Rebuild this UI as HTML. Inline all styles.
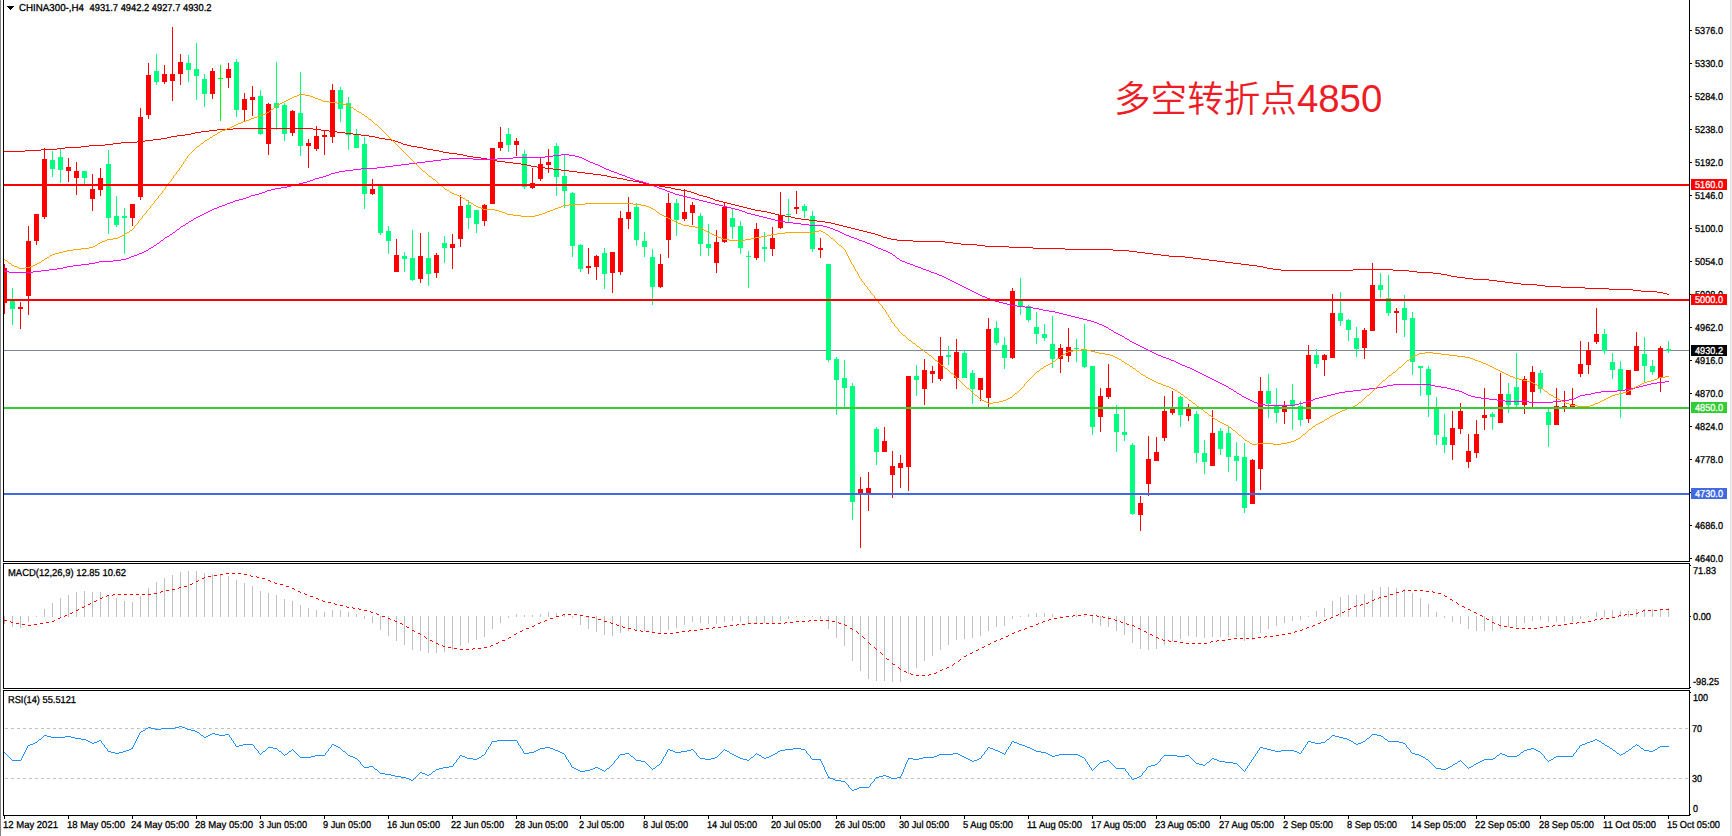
<!DOCTYPE html>
<html lang="zh"><head><meta charset="utf-8"><title>CHINA300-,H4</title>
<style>
html,body{margin:0;padding:0;background:#fff;}
body{width:1732px;height:836px;overflow:hidden;position:relative;font-family:"Liberation Sans","Noto Sans CJK SC",sans-serif;}
svg{position:absolute;left:0;top:0;display:block;}
.t{font-family:"Liberation Sans",sans-serif;font-size:10px;fill:#000;stroke:#000;stroke-width:0.3px;text-rendering:geometricPrecision;white-space:pre;}
.w{fill:#fff;stroke:#fff;}
.note{position:absolute;left:1114px;top:73px;margin:0;font-family:"Liberation Sans","Noto Sans CJK SC",sans-serif;font-weight:350;font-size:36.6px;line-height:52px;color:#ee1c25;white-space:nowrap;}
.num{font-size:38.4px;}
</style></head><body>
<svg width="1732" height="836" viewBox="0 0 1732 836">
<rect x="0" y="0" width="1732" height="836" fill="#fff"/>
<g shape-rendering="crispEdges">
<rect x="0" y="0" width="1" height="836" fill="#828282"/>
<rect x="1730" y="0" width="1" height="836" fill="#e2e2e2"/>
<rect x="1731" y="0" width="1" height="836" fill="#f0f0f0"/>
<rect x="4" y="350" width="1685" height="1" fill="#778899"/>
<rect x="4" y="616" width="1" height="8" fill="#c0c0c0"/>
<rect x="12" y="616" width="1" height="11" fill="#c0c0c0"/>
<rect x="20" y="616" width="1" height="12" fill="#c0c0c0"/>
<rect x="28" y="616" width="1" height="6" fill="#c0c0c0"/>
<rect x="36" y="616" width="1" height="1" fill="#c0c0c0"/>
<rect x="44" y="609" width="1" height="8" fill="#c0c0c0"/>
<rect x="52" y="603" width="1" height="14" fill="#c0c0c0"/>
<rect x="60" y="598" width="1" height="19" fill="#c0c0c0"/>
<rect x="68" y="595" width="1" height="22" fill="#c0c0c0"/>
<rect x="76" y="592" width="1" height="25" fill="#c0c0c0"/>
<rect x="84" y="591" width="1" height="26" fill="#c0c0c0"/>
<rect x="92" y="592" width="1" height="25" fill="#c0c0c0"/>
<rect x="100" y="592" width="1" height="25" fill="#c0c0c0"/>
<rect x="108" y="595" width="1" height="22" fill="#c0c0c0"/>
<rect x="116" y="598" width="1" height="19" fill="#c0c0c0"/>
<rect x="124" y="601" width="1" height="16" fill="#c0c0c0"/>
<rect x="132" y="602" width="1" height="15" fill="#c0c0c0"/>
<rect x="140" y="596" width="1" height="21" fill="#c0c0c0"/>
<rect x="148" y="588" width="1" height="29" fill="#c0c0c0"/>
<rect x="156" y="582" width="1" height="35" fill="#c0c0c0"/>
<rect x="164" y="578" width="1" height="39" fill="#c0c0c0"/>
<rect x="172" y="575" width="1" height="42" fill="#c0c0c0"/>
<rect x="180" y="572" width="1" height="45" fill="#c0c0c0"/>
<rect x="188" y="571" width="1" height="46" fill="#c0c0c0"/>
<rect x="196" y="571" width="1" height="46" fill="#c0c0c0"/>
<rect x="204" y="573" width="1" height="44" fill="#c0c0c0"/>
<rect x="212" y="574" width="1" height="43" fill="#c0c0c0"/>
<rect x="220" y="575" width="1" height="42" fill="#c0c0c0"/>
<rect x="228" y="576" width="1" height="41" fill="#c0c0c0"/>
<rect x="236" y="580" width="1" height="37" fill="#c0c0c0"/>
<rect x="244" y="583" width="1" height="34" fill="#c0c0c0"/>
<rect x="252" y="586" width="1" height="31" fill="#c0c0c0"/>
<rect x="260" y="591" width="1" height="26" fill="#c0c0c0"/>
<rect x="268" y="593" width="1" height="24" fill="#c0c0c0"/>
<rect x="276" y="595" width="1" height="22" fill="#c0c0c0"/>
<rect x="284" y="599" width="1" height="18" fill="#c0c0c0"/>
<rect x="292" y="601" width="1" height="16" fill="#c0c0c0"/>
<rect x="300" y="605" width="1" height="12" fill="#c0c0c0"/>
<rect x="308" y="608" width="1" height="9" fill="#c0c0c0"/>
<rect x="316" y="610" width="1" height="7" fill="#c0c0c0"/>
<rect x="324" y="612" width="1" height="5" fill="#c0c0c0"/>
<rect x="332" y="610" width="1" height="7" fill="#c0c0c0"/>
<rect x="340" y="610" width="1" height="7" fill="#c0c0c0"/>
<rect x="348" y="612" width="1" height="5" fill="#c0c0c0"/>
<rect x="356" y="614" width="1" height="3" fill="#c0c0c0"/>
<rect x="364" y="616" width="1" height="3" fill="#c0c0c0"/>
<rect x="372" y="616" width="1" height="7" fill="#c0c0c0"/>
<rect x="380" y="616" width="1" height="14" fill="#c0c0c0"/>
<rect x="388" y="616" width="1" height="20" fill="#c0c0c0"/>
<rect x="396" y="616" width="1" height="25" fill="#c0c0c0"/>
<rect x="404" y="616" width="1" height="29" fill="#c0c0c0"/>
<rect x="412" y="616" width="1" height="34" fill="#c0c0c0"/>
<rect x="420" y="616" width="1" height="35" fill="#c0c0c0"/>
<rect x="428" y="616" width="1" height="37" fill="#c0c0c0"/>
<rect x="436" y="616" width="1" height="37" fill="#c0c0c0"/>
<rect x="444" y="616" width="1" height="36" fill="#c0c0c0"/>
<rect x="452" y="616" width="1" height="34" fill="#c0c0c0"/>
<rect x="460" y="616" width="1" height="30" fill="#c0c0c0"/>
<rect x="468" y="616" width="1" height="27" fill="#c0c0c0"/>
<rect x="476" y="616" width="1" height="24" fill="#c0c0c0"/>
<rect x="484" y="616" width="1" height="21" fill="#c0c0c0"/>
<rect x="492" y="616" width="1" height="13" fill="#c0c0c0"/>
<rect x="500" y="616" width="1" height="7" fill="#c0c0c0"/>
<rect x="508" y="616" width="1" height="2" fill="#c0c0c0"/>
<rect x="516" y="614" width="1" height="3" fill="#c0c0c0"/>
<rect x="524" y="615" width="1" height="2" fill="#c0c0c0"/>
<rect x="532" y="615" width="1" height="2" fill="#c0c0c0"/>
<rect x="540" y="614" width="1" height="3" fill="#c0c0c0"/>
<rect x="548" y="612" width="1" height="5" fill="#c0c0c0"/>
<rect x="556" y="613" width="1" height="4" fill="#c0c0c0"/>
<rect x="564" y="614" width="1" height="3" fill="#c0c0c0"/>
<rect x="572" y="616" width="1" height="2" fill="#c0c0c0"/>
<rect x="580" y="616" width="1" height="9" fill="#c0c0c0"/>
<rect x="588" y="616" width="1" height="13" fill="#c0c0c0"/>
<rect x="596" y="616" width="1" height="16" fill="#c0c0c0"/>
<rect x="604" y="616" width="1" height="19" fill="#c0c0c0"/>
<rect x="612" y="616" width="1" height="20" fill="#c0c0c0"/>
<rect x="620" y="616" width="1" height="17" fill="#c0c0c0"/>
<rect x="628" y="616" width="1" height="15" fill="#c0c0c0"/>
<rect x="636" y="616" width="1" height="14" fill="#c0c0c0"/>
<rect x="644" y="616" width="1" height="15" fill="#c0c0c0"/>
<rect x="652" y="616" width="1" height="17" fill="#c0c0c0"/>
<rect x="660" y="616" width="1" height="18" fill="#c0c0c0"/>
<rect x="668" y="616" width="1" height="14" fill="#c0c0c0"/>
<rect x="676" y="616" width="1" height="12" fill="#c0c0c0"/>
<rect x="684" y="616" width="1" height="9" fill="#c0c0c0"/>
<rect x="692" y="616" width="1" height="6" fill="#c0c0c0"/>
<rect x="700" y="616" width="1" height="7" fill="#c0c0c0"/>
<rect x="708" y="616" width="1" height="8" fill="#c0c0c0"/>
<rect x="716" y="616" width="1" height="8" fill="#c0c0c0"/>
<rect x="724" y="616" width="1" height="6" fill="#c0c0c0"/>
<rect x="732" y="616" width="1" height="5" fill="#c0c0c0"/>
<rect x="740" y="616" width="1" height="6" fill="#c0c0c0"/>
<rect x="748" y="616" width="1" height="7" fill="#c0c0c0"/>
<rect x="756" y="616" width="1" height="7" fill="#c0c0c0"/>
<rect x="764" y="616" width="1" height="7" fill="#c0c0c0"/>
<rect x="772" y="616" width="1" height="7" fill="#c0c0c0"/>
<rect x="780" y="616" width="1" height="5" fill="#c0c0c0"/>
<rect x="788" y="616" width="1" height="3" fill="#c0c0c0"/>
<rect x="796" y="616" width="1" height="1" fill="#c0c0c0"/>
<rect x="804" y="616" width="1" height="1" fill="#c0c0c0"/>
<rect x="812" y="616" width="1" height="1" fill="#c0c0c0"/>
<rect x="820" y="616" width="1" height="3" fill="#c0c0c0"/>
<rect x="828" y="616" width="1" height="13" fill="#c0c0c0"/>
<rect x="836" y="616" width="1" height="22" fill="#c0c0c0"/>
<rect x="844" y="616" width="1" height="30" fill="#c0c0c0"/>
<rect x="852" y="616" width="1" height="45" fill="#c0c0c0"/>
<rect x="860" y="616" width="1" height="55" fill="#c0c0c0"/>
<rect x="868" y="616" width="1" height="63" fill="#c0c0c0"/>
<rect x="876" y="616" width="1" height="65" fill="#c0c0c0"/>
<rect x="884" y="616" width="1" height="65" fill="#c0c0c0"/>
<rect x="892" y="616" width="1" height="66" fill="#c0c0c0"/>
<rect x="900" y="616" width="1" height="66" fill="#c0c0c0"/>
<rect x="908" y="616" width="1" height="58" fill="#c0c0c0"/>
<rect x="916" y="616" width="1" height="52" fill="#c0c0c0"/>
<rect x="924" y="616" width="1" height="45" fill="#c0c0c0"/>
<rect x="932" y="616" width="1" height="40" fill="#c0c0c0"/>
<rect x="940" y="616" width="1" height="34" fill="#c0c0c0"/>
<rect x="948" y="616" width="1" height="29" fill="#c0c0c0"/>
<rect x="956" y="616" width="1" height="24" fill="#c0c0c0"/>
<rect x="964" y="616" width="1" height="23" fill="#c0c0c0"/>
<rect x="972" y="616" width="1" height="22" fill="#c0c0c0"/>
<rect x="980" y="616" width="1" height="20" fill="#c0c0c0"/>
<rect x="988" y="616" width="1" height="15" fill="#c0c0c0"/>
<rect x="996" y="616" width="1" height="11" fill="#c0c0c0"/>
<rect x="1004" y="616" width="1" height="10" fill="#c0c0c0"/>
<rect x="1012" y="616" width="1" height="3" fill="#c0c0c0"/>
<rect x="1020" y="616" width="1" height="1" fill="#c0c0c0"/>
<rect x="1028" y="614" width="1" height="3" fill="#c0c0c0"/>
<rect x="1036" y="613" width="1" height="4" fill="#c0c0c0"/>
<rect x="1044" y="613" width="1" height="4" fill="#c0c0c0"/>
<rect x="1052" y="614" width="1" height="3" fill="#c0c0c0"/>
<rect x="1060" y="616" width="1" height="1" fill="#c0c0c0"/>
<rect x="1068" y="616" width="1" height="1" fill="#c0c0c0"/>
<rect x="1076" y="616" width="1" height="1" fill="#c0c0c0"/>
<rect x="1084" y="616" width="1" height="1" fill="#c0c0c0"/>
<rect x="1092" y="616" width="1" height="7" fill="#c0c0c0"/>
<rect x="1100" y="616" width="1" height="10" fill="#c0c0c0"/>
<rect x="1108" y="616" width="1" height="11" fill="#c0c0c0"/>
<rect x="1116" y="616" width="1" height="15" fill="#c0c0c0"/>
<rect x="1124" y="616" width="1" height="19" fill="#c0c0c0"/>
<rect x="1132" y="616" width="1" height="27" fill="#c0c0c0"/>
<rect x="1140" y="616" width="1" height="33" fill="#c0c0c0"/>
<rect x="1148" y="616" width="1" height="34" fill="#c0c0c0"/>
<rect x="1156" y="616" width="1" height="33" fill="#c0c0c0"/>
<rect x="1164" y="616" width="1" height="29" fill="#c0c0c0"/>
<rect x="1172" y="616" width="1" height="25" fill="#c0c0c0"/>
<rect x="1180" y="616" width="1" height="23" fill="#c0c0c0"/>
<rect x="1188" y="616" width="1" height="20" fill="#c0c0c0"/>
<rect x="1196" y="616" width="1" height="21" fill="#c0c0c0"/>
<rect x="1204" y="616" width="1" height="22" fill="#c0c0c0"/>
<rect x="1212" y="616" width="1" height="21" fill="#c0c0c0"/>
<rect x="1220" y="616" width="1" height="21" fill="#c0c0c0"/>
<rect x="1228" y="616" width="1" height="21" fill="#c0c0c0"/>
<rect x="1236" y="616" width="1" height="21" fill="#c0c0c0"/>
<rect x="1244" y="616" width="1" height="25" fill="#c0c0c0"/>
<rect x="1252" y="616" width="1" height="24" fill="#c0c0c0"/>
<rect x="1260" y="616" width="1" height="17" fill="#c0c0c0"/>
<rect x="1268" y="616" width="1" height="13" fill="#c0c0c0"/>
<rect x="1276" y="616" width="1" height="10" fill="#c0c0c0"/>
<rect x="1284" y="616" width="1" height="7" fill="#c0c0c0"/>
<rect x="1292" y="616" width="1" height="5" fill="#c0c0c0"/>
<rect x="1300" y="616" width="1" height="4" fill="#c0c0c0"/>
<rect x="1308" y="616" width="1" height="1" fill="#c0c0c0"/>
<rect x="1316" y="611" width="1" height="6" fill="#c0c0c0"/>
<rect x="1324" y="608" width="1" height="9" fill="#c0c0c0"/>
<rect x="1332" y="601" width="1" height="16" fill="#c0c0c0"/>
<rect x="1340" y="597" width="1" height="20" fill="#c0c0c0"/>
<rect x="1348" y="595" width="1" height="22" fill="#c0c0c0"/>
<rect x="1356" y="595" width="1" height="22" fill="#c0c0c0"/>
<rect x="1364" y="594" width="1" height="23" fill="#c0c0c0"/>
<rect x="1372" y="590" width="1" height="27" fill="#c0c0c0"/>
<rect x="1380" y="587" width="1" height="30" fill="#c0c0c0"/>
<rect x="1388" y="587" width="1" height="30" fill="#c0c0c0"/>
<rect x="1396" y="588" width="1" height="29" fill="#c0c0c0"/>
<rect x="1404" y="589" width="1" height="28" fill="#c0c0c0"/>
<rect x="1412" y="593" width="1" height="24" fill="#c0c0c0"/>
<rect x="1420" y="598" width="1" height="19" fill="#c0c0c0"/>
<rect x="1428" y="604" width="1" height="13" fill="#c0c0c0"/>
<rect x="1436" y="612" width="1" height="5" fill="#c0c0c0"/>
<rect x="1444" y="616" width="1" height="2" fill="#c0c0c0"/>
<rect x="1452" y="616" width="1" height="6" fill="#c0c0c0"/>
<rect x="1460" y="616" width="1" height="8" fill="#c0c0c0"/>
<rect x="1468" y="616" width="1" height="13" fill="#c0c0c0"/>
<rect x="1476" y="616" width="1" height="15" fill="#c0c0c0"/>
<rect x="1484" y="616" width="1" height="15" fill="#c0c0c0"/>
<rect x="1492" y="616" width="1" height="15" fill="#c0c0c0"/>
<rect x="1500" y="616" width="1" height="13" fill="#c0c0c0"/>
<rect x="1508" y="616" width="1" height="11" fill="#c0c0c0"/>
<rect x="1516" y="616" width="1" height="11" fill="#c0c0c0"/>
<rect x="1524" y="616" width="1" height="7" fill="#c0c0c0"/>
<rect x="1532" y="616" width="1" height="5" fill="#c0c0c0"/>
<rect x="1540" y="616" width="1" height="4" fill="#c0c0c0"/>
<rect x="1548" y="616" width="1" height="6" fill="#c0c0c0"/>
<rect x="1556" y="616" width="1" height="6" fill="#c0c0c0"/>
<rect x="1564" y="616" width="1" height="6" fill="#c0c0c0"/>
<rect x="1572" y="616" width="1" height="6" fill="#c0c0c0"/>
<rect x="1580" y="616" width="1" height="3" fill="#c0c0c0"/>
<rect x="1588" y="616" width="1" height="1" fill="#c0c0c0"/>
<rect x="1596" y="612" width="1" height="5" fill="#c0c0c0"/>
<rect x="1604" y="610" width="1" height="7" fill="#c0c0c0"/>
<rect x="1612" y="610" width="1" height="7" fill="#c0c0c0"/>
<rect x="1620" y="611" width="1" height="6" fill="#c0c0c0"/>
<rect x="1628" y="611" width="1" height="6" fill="#c0c0c0"/>
<rect x="1636" y="609" width="1" height="8" fill="#c0c0c0"/>
<rect x="1644" y="609" width="1" height="8" fill="#c0c0c0"/>
<rect x="1652" y="609" width="1" height="8" fill="#c0c0c0"/>
<rect x="1660" y="609" width="1" height="8" fill="#c0c0c0"/>
<rect x="1668" y="608" width="1" height="9" fill="#c0c0c0"/>
</g>
<g shape-rendering="crispEdges" stroke="#c0c0c0" stroke-width="1" stroke-dasharray="3 3" fill="none">
<path d="M5 728.5H1689"/>
<path d="M5 778.5H1689"/>
</g>
<g shape-rendering="crispEdges">
<rect x="4" y="264" width="1" height="50" fill="#ff0000"/>
<rect x="4" y="268" width="3" height="35" fill="#ff0000"/>
<rect x="12" y="288" width="1" height="37" fill="#00ff7f"/>
<rect x="10" y="301" width="5" height="8" fill="#00ff7f"/>
<rect x="20" y="302" width="1" height="27" fill="#ff0000"/>
<rect x="18" y="307" width="5" height="2" fill="#ff0000"/>
<rect x="28" y="226" width="1" height="89" fill="#ff0000"/>
<rect x="26" y="241" width="5" height="55" fill="#ff0000"/>
<rect x="36" y="214" width="1" height="31" fill="#ff0000"/>
<rect x="34" y="214" width="5" height="27" fill="#ff0000"/>
<rect x="44" y="148" width="1" height="71" fill="#ff0000"/>
<rect x="42" y="159" width="5" height="58" fill="#ff0000"/>
<rect x="52" y="151" width="1" height="26" fill="#00ff7f"/>
<rect x="50" y="160" width="5" height="9" fill="#00ff7f"/>
<rect x="60" y="148" width="1" height="35" fill="#00ff7f"/>
<rect x="58" y="157" width="5" height="13" fill="#00ff7f"/>
<rect x="68" y="158" width="1" height="24" fill="#ff0000"/>
<rect x="66" y="167" width="5" height="4" fill="#ff0000"/>
<rect x="76" y="162" width="1" height="33" fill="#ff0000"/>
<rect x="74" y="171" width="5" height="7" fill="#ff0000"/>
<rect x="84" y="171" width="1" height="13" fill="#00ff7f"/>
<rect x="82" y="171" width="5" height="7" fill="#00ff7f"/>
<rect x="92" y="174" width="1" height="37" fill="#ff0000"/>
<rect x="90" y="189" width="5" height="10" fill="#ff0000"/>
<rect x="100" y="168" width="1" height="28" fill="#ff0000"/>
<rect x="98" y="178" width="5" height="12" fill="#ff0000"/>
<rect x="108" y="150" width="1" height="84" fill="#00ff7f"/>
<rect x="106" y="164" width="5" height="54" fill="#00ff7f"/>
<rect x="116" y="196" width="1" height="31" fill="#00ff7f"/>
<rect x="114" y="216" width="5" height="9" fill="#00ff7f"/>
<rect x="124" y="208" width="1" height="46" fill="#00ff7f"/>
<rect x="122" y="216" width="5" height="2" fill="#00ff7f"/>
<rect x="132" y="204" width="1" height="22" fill="#ff0000"/>
<rect x="130" y="204" width="5" height="14" fill="#ff0000"/>
<rect x="140" y="108" width="1" height="92" fill="#ff0000"/>
<rect x="138" y="117" width="5" height="80" fill="#ff0000"/>
<rect x="148" y="63" width="1" height="56" fill="#ff0000"/>
<rect x="146" y="75" width="5" height="40" fill="#ff0000"/>
<rect x="156" y="54" width="1" height="31" fill="#00ff7f"/>
<rect x="154" y="71" width="5" height="11" fill="#00ff7f"/>
<rect x="164" y="65" width="1" height="19" fill="#ff0000"/>
<rect x="162" y="74" width="5" height="8" fill="#ff0000"/>
<rect x="172" y="27" width="1" height="74" fill="#ff0000"/>
<rect x="170" y="74" width="5" height="7" fill="#ff0000"/>
<rect x="180" y="54" width="1" height="31" fill="#ff0000"/>
<rect x="178" y="62" width="5" height="12" fill="#ff0000"/>
<rect x="188" y="55" width="1" height="27" fill="#00ff7f"/>
<rect x="186" y="63" width="5" height="7" fill="#00ff7f"/>
<rect x="196" y="43" width="1" height="57" fill="#00ff7f"/>
<rect x="194" y="69" width="5" height="7" fill="#00ff7f"/>
<rect x="204" y="74" width="1" height="33" fill="#00ff7f"/>
<rect x="202" y="79" width="5" height="15" fill="#00ff7f"/>
<rect x="212" y="68" width="1" height="31" fill="#ff0000"/>
<rect x="210" y="71" width="5" height="23" fill="#ff0000"/>
<rect x="220" y="65" width="1" height="56" fill="#00ff00"/>
<rect x="218" y="78" width="5" height="1" fill="#00ff00"/>
<rect x="228" y="63" width="1" height="25" fill="#ff0000"/>
<rect x="226" y="69" width="5" height="9" fill="#ff0000"/>
<rect x="236" y="59" width="1" height="58" fill="#00ff7f"/>
<rect x="234" y="62" width="5" height="48" fill="#00ff7f"/>
<rect x="244" y="93" width="1" height="29" fill="#ff0000"/>
<rect x="242" y="99" width="5" height="11" fill="#ff0000"/>
<rect x="252" y="86" width="1" height="30" fill="#ff0000"/>
<rect x="250" y="97" width="5" height="3" fill="#ff0000"/>
<rect x="260" y="90" width="1" height="45" fill="#00ff7f"/>
<rect x="258" y="96" width="5" height="38" fill="#00ff7f"/>
<rect x="268" y="103" width="1" height="52" fill="#ff0000"/>
<rect x="266" y="104" width="5" height="40" fill="#ff0000"/>
<rect x="276" y="62" width="1" height="68" fill="#00ff7f"/>
<rect x="274" y="103" width="5" height="5" fill="#00ff7f"/>
<rect x="284" y="103" width="1" height="38" fill="#00ff7f"/>
<rect x="282" y="105" width="5" height="29" fill="#00ff7f"/>
<rect x="292" y="110" width="1" height="26" fill="#ff0000"/>
<rect x="290" y="111" width="5" height="22" fill="#ff0000"/>
<rect x="300" y="72" width="1" height="84" fill="#00ff7f"/>
<rect x="298" y="113" width="5" height="33" fill="#00ff7f"/>
<rect x="308" y="139" width="1" height="29" fill="#ff0000"/>
<rect x="306" y="143" width="5" height="3" fill="#ff0000"/>
<rect x="316" y="126" width="1" height="25" fill="#ff0000"/>
<rect x="314" y="136" width="5" height="13" fill="#ff0000"/>
<rect x="324" y="130" width="1" height="25" fill="#ff0000"/>
<rect x="322" y="135" width="5" height="2" fill="#ff0000"/>
<rect x="332" y="84" width="1" height="59" fill="#ff0000"/>
<rect x="330" y="90" width="5" height="47" fill="#ff0000"/>
<rect x="340" y="87" width="1" height="35" fill="#00ff7f"/>
<rect x="338" y="90" width="5" height="19" fill="#00ff7f"/>
<rect x="348" y="97" width="1" height="53" fill="#00ff7f"/>
<rect x="346" y="103" width="5" height="32" fill="#00ff7f"/>
<rect x="356" y="129" width="1" height="19" fill="#00ff7f"/>
<rect x="354" y="135" width="5" height="13" fill="#00ff7f"/>
<rect x="364" y="137" width="1" height="72" fill="#00ff7f"/>
<rect x="362" y="144" width="5" height="50" fill="#00ff7f"/>
<rect x="372" y="179" width="1" height="16" fill="#ff0000"/>
<rect x="370" y="189" width="5" height="5" fill="#ff0000"/>
<rect x="380" y="186" width="1" height="49" fill="#00ff7f"/>
<rect x="378" y="186" width="5" height="47" fill="#00ff7f"/>
<rect x="388" y="226" width="1" height="28" fill="#00ff7f"/>
<rect x="386" y="231" width="5" height="10" fill="#00ff7f"/>
<rect x="396" y="239" width="1" height="33" fill="#ff0000"/>
<rect x="394" y="255" width="5" height="17" fill="#ff0000"/>
<rect x="404" y="252" width="1" height="20" fill="#00ff7f"/>
<rect x="402" y="256" width="5" height="3" fill="#00ff7f"/>
<rect x="412" y="230" width="1" height="51" fill="#00ff7f"/>
<rect x="410" y="258" width="5" height="22" fill="#00ff7f"/>
<rect x="420" y="233" width="1" height="50" fill="#ff0000"/>
<rect x="418" y="256" width="5" height="23" fill="#ff0000"/>
<rect x="428" y="232" width="1" height="54" fill="#00ff7f"/>
<rect x="426" y="258" width="5" height="16" fill="#00ff7f"/>
<rect x="436" y="253" width="1" height="25" fill="#ff0000"/>
<rect x="434" y="255" width="5" height="18" fill="#ff0000"/>
<rect x="444" y="236" width="1" height="27" fill="#00ff7f"/>
<rect x="442" y="243" width="5" height="5" fill="#00ff7f"/>
<rect x="452" y="234" width="1" height="35" fill="#ff0000"/>
<rect x="450" y="244" width="5" height="4" fill="#ff0000"/>
<rect x="460" y="195" width="1" height="52" fill="#ff0000"/>
<rect x="458" y="206" width="5" height="33" fill="#ff0000"/>
<rect x="468" y="200" width="1" height="29" fill="#00ff7f"/>
<rect x="466" y="205" width="5" height="13" fill="#00ff7f"/>
<rect x="476" y="210" width="1" height="23" fill="#00ff7f"/>
<rect x="474" y="210" width="5" height="14" fill="#00ff7f"/>
<rect x="484" y="204" width="1" height="22" fill="#ff0000"/>
<rect x="482" y="205" width="5" height="16" fill="#ff0000"/>
<rect x="492" y="148" width="1" height="56" fill="#ff0000"/>
<rect x="490" y="148" width="5" height="56" fill="#ff0000"/>
<rect x="500" y="127" width="1" height="24" fill="#ff0000"/>
<rect x="498" y="142" width="5" height="6" fill="#ff0000"/>
<rect x="508" y="128" width="1" height="24" fill="#00ff7f"/>
<rect x="506" y="134" width="5" height="11" fill="#00ff7f"/>
<rect x="516" y="138" width="1" height="18" fill="#ff0000"/>
<rect x="514" y="141" width="5" height="4" fill="#ff0000"/>
<rect x="524" y="150" width="1" height="39" fill="#00ff7f"/>
<rect x="522" y="154" width="5" height="33" fill="#00ff7f"/>
<rect x="532" y="168" width="1" height="21" fill="#ff0000"/>
<rect x="530" y="183" width="5" height="5" fill="#ff0000"/>
<rect x="540" y="158" width="1" height="23" fill="#ff0000"/>
<rect x="538" y="164" width="5" height="15" fill="#ff0000"/>
<rect x="548" y="149" width="1" height="24" fill="#ff0000"/>
<rect x="546" y="162" width="5" height="3" fill="#ff0000"/>
<rect x="556" y="143" width="1" height="53" fill="#00ff7f"/>
<rect x="554" y="146" width="5" height="31" fill="#00ff7f"/>
<rect x="564" y="155" width="1" height="53" fill="#00ff7f"/>
<rect x="562" y="176" width="5" height="15" fill="#00ff7f"/>
<rect x="572" y="192" width="1" height="65" fill="#00ff7f"/>
<rect x="570" y="193" width="5" height="53" fill="#00ff7f"/>
<rect x="580" y="244" width="1" height="28" fill="#00ff7f"/>
<rect x="578" y="245" width="5" height="24" fill="#00ff7f"/>
<rect x="588" y="248" width="1" height="26" fill="#ff0000"/>
<rect x="586" y="266" width="5" height="2" fill="#ff0000"/>
<rect x="596" y="255" width="1" height="25" fill="#ff0000"/>
<rect x="594" y="256" width="5" height="11" fill="#ff0000"/>
<rect x="604" y="248" width="1" height="41" fill="#00ff7f"/>
<rect x="602" y="253" width="5" height="21" fill="#00ff7f"/>
<rect x="612" y="252" width="1" height="41" fill="#ff0000"/>
<rect x="610" y="252" width="5" height="21" fill="#ff0000"/>
<rect x="620" y="211" width="1" height="64" fill="#ff0000"/>
<rect x="618" y="218" width="5" height="54" fill="#ff0000"/>
<rect x="628" y="197" width="1" height="32" fill="#ff0000"/>
<rect x="626" y="212" width="5" height="7" fill="#ff0000"/>
<rect x="636" y="203" width="1" height="43" fill="#00ff7f"/>
<rect x="634" y="207" width="5" height="33" fill="#00ff7f"/>
<rect x="644" y="232" width="1" height="25" fill="#00ff7f"/>
<rect x="642" y="241" width="5" height="6" fill="#00ff7f"/>
<rect x="652" y="249" width="1" height="56" fill="#00ff7f"/>
<rect x="650" y="257" width="5" height="30" fill="#00ff7f"/>
<rect x="660" y="254" width="1" height="34" fill="#ff0000"/>
<rect x="658" y="264" width="5" height="23" fill="#ff0000"/>
<rect x="668" y="193" width="1" height="65" fill="#ff0000"/>
<rect x="666" y="203" width="5" height="37" fill="#ff0000"/>
<rect x="676" y="199" width="1" height="37" fill="#00ff7f"/>
<rect x="674" y="203" width="5" height="17" fill="#00ff7f"/>
<rect x="684" y="189" width="1" height="32" fill="#ff0000"/>
<rect x="682" y="212" width="5" height="7" fill="#ff0000"/>
<rect x="692" y="202" width="1" height="23" fill="#ff0000"/>
<rect x="690" y="205" width="5" height="8" fill="#ff0000"/>
<rect x="700" y="213" width="1" height="43" fill="#00ff7f"/>
<rect x="698" y="216" width="5" height="28" fill="#00ff7f"/>
<rect x="708" y="224" width="1" height="32" fill="#00ff7f"/>
<rect x="706" y="244" width="5" height="4" fill="#00ff7f"/>
<rect x="716" y="230" width="1" height="43" fill="#ff0000"/>
<rect x="714" y="242" width="5" height="21" fill="#ff0000"/>
<rect x="724" y="202" width="1" height="41" fill="#ff0000"/>
<rect x="722" y="207" width="5" height="35" fill="#ff0000"/>
<rect x="732" y="208" width="1" height="31" fill="#00ff7f"/>
<rect x="730" y="218" width="5" height="9" fill="#00ff7f"/>
<rect x="740" y="221" width="1" height="33" fill="#00ff7f"/>
<rect x="738" y="226" width="5" height="22" fill="#00ff7f"/>
<rect x="748" y="251" width="1" height="37" fill="#00ff7f"/>
<rect x="746" y="256" width="5" height="1" fill="#00ff7f"/>
<rect x="756" y="223" width="1" height="37" fill="#ff0000"/>
<rect x="754" y="229" width="5" height="29" fill="#ff0000"/>
<rect x="764" y="232" width="1" height="30" fill="#00ff7f"/>
<rect x="762" y="247" width="5" height="2" fill="#00ff7f"/>
<rect x="772" y="227" width="1" height="29" fill="#ff0000"/>
<rect x="770" y="238" width="5" height="11" fill="#ff0000"/>
<rect x="780" y="192" width="1" height="37" fill="#ff0000"/>
<rect x="778" y="215" width="5" height="13" fill="#ff0000"/>
<rect x="788" y="199" width="1" height="23" fill="#00ff7f"/>
<rect x="786" y="214" width="5" height="1" fill="#00ff7f"/>
<rect x="796" y="191" width="1" height="23" fill="#ff0000"/>
<rect x="794" y="207" width="5" height="2" fill="#ff0000"/>
<rect x="804" y="204" width="1" height="14" fill="#00ff7f"/>
<rect x="802" y="206" width="5" height="5" fill="#00ff7f"/>
<rect x="812" y="211" width="1" height="41" fill="#00ff7f"/>
<rect x="810" y="216" width="5" height="33" fill="#00ff7f"/>
<rect x="820" y="238" width="1" height="20" fill="#ff0000"/>
<rect x="818" y="248" width="5" height="2" fill="#ff0000"/>
<rect x="828" y="264" width="1" height="98" fill="#00ff7f"/>
<rect x="826" y="264" width="5" height="96" fill="#00ff7f"/>
<rect x="836" y="357" width="1" height="58" fill="#00ff7f"/>
<rect x="834" y="359" width="5" height="21" fill="#00ff7f"/>
<rect x="844" y="360" width="1" height="47" fill="#00ff7f"/>
<rect x="842" y="378" width="5" height="10" fill="#00ff7f"/>
<rect x="852" y="383" width="1" height="137" fill="#00ff7f"/>
<rect x="850" y="386" width="5" height="116" fill="#00ff7f"/>
<rect x="860" y="477" width="1" height="71" fill="#ff0000"/>
<rect x="858" y="489" width="5" height="5" fill="#ff0000"/>
<rect x="868" y="472" width="1" height="39" fill="#ff0000"/>
<rect x="866" y="488" width="5" height="6" fill="#ff0000"/>
<rect x="876" y="427" width="1" height="38" fill="#00ff7f"/>
<rect x="874" y="429" width="5" height="23" fill="#00ff7f"/>
<rect x="884" y="427" width="1" height="25" fill="#ff0000"/>
<rect x="882" y="441" width="5" height="11" fill="#ff0000"/>
<rect x="892" y="451" width="1" height="47" fill="#ff0000"/>
<rect x="890" y="466" width="5" height="9" fill="#ff0000"/>
<rect x="900" y="455" width="1" height="33" fill="#ff0000"/>
<rect x="898" y="463" width="5" height="5" fill="#ff0000"/>
<rect x="908" y="376" width="1" height="115" fill="#ff0000"/>
<rect x="906" y="376" width="5" height="91" fill="#ff0000"/>
<rect x="916" y="365" width="1" height="31" fill="#00ff7f"/>
<rect x="914" y="376" width="5" height="4" fill="#00ff7f"/>
<rect x="924" y="359" width="1" height="46" fill="#ff0000"/>
<rect x="922" y="370" width="5" height="19" fill="#ff0000"/>
<rect x="932" y="366" width="1" height="17" fill="#ff0000"/>
<rect x="930" y="371" width="5" height="3" fill="#ff0000"/>
<rect x="940" y="337" width="1" height="44" fill="#ff0000"/>
<rect x="938" y="356" width="5" height="23" fill="#ff0000"/>
<rect x="948" y="346" width="1" height="19" fill="#00ff7f"/>
<rect x="946" y="355" width="5" height="2" fill="#00ff7f"/>
<rect x="956" y="339" width="1" height="50" fill="#ff0000"/>
<rect x="954" y="352" width="5" height="26" fill="#ff0000"/>
<rect x="964" y="350" width="1" height="28" fill="#00ff7f"/>
<rect x="962" y="353" width="5" height="25" fill="#00ff7f"/>
<rect x="972" y="370" width="1" height="34" fill="#00ff7f"/>
<rect x="970" y="373" width="5" height="16" fill="#00ff7f"/>
<rect x="980" y="378" width="1" height="23" fill="#ff0000"/>
<rect x="978" y="378" width="5" height="12" fill="#ff0000"/>
<rect x="988" y="318" width="1" height="89" fill="#ff0000"/>
<rect x="986" y="329" width="5" height="69" fill="#ff0000"/>
<rect x="996" y="321" width="1" height="24" fill="#00ff7f"/>
<rect x="994" y="328" width="5" height="15" fill="#00ff7f"/>
<rect x="1004" y="337" width="1" height="32" fill="#00ff7f"/>
<rect x="1002" y="345" width="5" height="13" fill="#00ff7f"/>
<rect x="1012" y="288" width="1" height="71" fill="#ff0000"/>
<rect x="1010" y="291" width="5" height="67" fill="#ff0000"/>
<rect x="1020" y="278" width="1" height="37" fill="#00ff7f"/>
<rect x="1018" y="299" width="5" height="8" fill="#00ff7f"/>
<rect x="1028" y="305" width="1" height="17" fill="#00ff7f"/>
<rect x="1026" y="306" width="5" height="14" fill="#00ff7f"/>
<rect x="1036" y="312" width="1" height="32" fill="#00ff7f"/>
<rect x="1034" y="327" width="5" height="7" fill="#00ff7f"/>
<rect x="1044" y="324" width="1" height="17" fill="#00ff7f"/>
<rect x="1042" y="334" width="5" height="4" fill="#00ff7f"/>
<rect x="1052" y="316" width="1" height="52" fill="#00ff7f"/>
<rect x="1050" y="344" width="5" height="15" fill="#00ff7f"/>
<rect x="1060" y="344" width="1" height="29" fill="#ff0000"/>
<rect x="1058" y="348" width="5" height="11" fill="#ff0000"/>
<rect x="1068" y="328" width="1" height="34" fill="#ff0000"/>
<rect x="1066" y="347" width="5" height="9" fill="#ff0000"/>
<rect x="1076" y="339" width="1" height="23" fill="#00ff7f"/>
<rect x="1074" y="348" width="5" height="1" fill="#00ff7f"/>
<rect x="1084" y="324" width="1" height="44" fill="#00ff7f"/>
<rect x="1082" y="350" width="5" height="17" fill="#00ff7f"/>
<rect x="1092" y="366" width="1" height="69" fill="#00ff7f"/>
<rect x="1090" y="366" width="5" height="61" fill="#00ff7f"/>
<rect x="1100" y="388" width="1" height="44" fill="#ff0000"/>
<rect x="1098" y="396" width="5" height="21" fill="#ff0000"/>
<rect x="1108" y="364" width="1" height="35" fill="#ff0000"/>
<rect x="1106" y="388" width="5" height="9" fill="#ff0000"/>
<rect x="1116" y="405" width="1" height="47" fill="#00ff7f"/>
<rect x="1114" y="414" width="5" height="18" fill="#00ff7f"/>
<rect x="1124" y="409" width="1" height="32" fill="#00ff7f"/>
<rect x="1122" y="432" width="5" height="3" fill="#00ff7f"/>
<rect x="1132" y="443" width="1" height="72" fill="#00ff7f"/>
<rect x="1130" y="445" width="5" height="69" fill="#00ff7f"/>
<rect x="1140" y="496" width="1" height="35" fill="#ff0000"/>
<rect x="1138" y="503" width="5" height="12" fill="#ff0000"/>
<rect x="1148" y="436" width="1" height="60" fill="#ff0000"/>
<rect x="1146" y="459" width="5" height="25" fill="#ff0000"/>
<rect x="1156" y="437" width="1" height="24" fill="#ff0000"/>
<rect x="1154" y="452" width="5" height="9" fill="#ff0000"/>
<rect x="1164" y="396" width="1" height="45" fill="#ff0000"/>
<rect x="1162" y="411" width="5" height="27" fill="#ff0000"/>
<rect x="1172" y="391" width="1" height="24" fill="#ff0000"/>
<rect x="1170" y="408" width="5" height="5" fill="#ff0000"/>
<rect x="1180" y="396" width="1" height="31" fill="#00ff7f"/>
<rect x="1178" y="397" width="5" height="18" fill="#00ff7f"/>
<rect x="1188" y="404" width="1" height="17" fill="#ff0000"/>
<rect x="1186" y="409" width="5" height="7" fill="#ff0000"/>
<rect x="1196" y="411" width="1" height="52" fill="#00ff7f"/>
<rect x="1194" y="414" width="5" height="39" fill="#00ff7f"/>
<rect x="1204" y="440" width="1" height="34" fill="#00ff7f"/>
<rect x="1202" y="453" width="5" height="9" fill="#00ff7f"/>
<rect x="1212" y="410" width="1" height="56" fill="#ff0000"/>
<rect x="1210" y="433" width="5" height="33" fill="#ff0000"/>
<rect x="1220" y="428" width="1" height="27" fill="#00ff7f"/>
<rect x="1218" y="431" width="5" height="18" fill="#00ff7f"/>
<rect x="1228" y="427" width="1" height="45" fill="#00ff7f"/>
<rect x="1226" y="433" width="5" height="24" fill="#00ff7f"/>
<rect x="1236" y="442" width="1" height="39" fill="#00ff7f"/>
<rect x="1234" y="456" width="5" height="5" fill="#00ff7f"/>
<rect x="1244" y="443" width="1" height="70" fill="#00ff7f"/>
<rect x="1242" y="457" width="5" height="51" fill="#00ff7f"/>
<rect x="1252" y="459" width="1" height="45" fill="#ff0000"/>
<rect x="1250" y="460" width="5" height="44" fill="#ff0000"/>
<rect x="1260" y="377" width="1" height="113" fill="#ff0000"/>
<rect x="1258" y="391" width="5" height="78" fill="#ff0000"/>
<rect x="1268" y="374" width="1" height="44" fill="#00ff7f"/>
<rect x="1266" y="391" width="5" height="13" fill="#00ff7f"/>
<rect x="1276" y="388" width="1" height="35" fill="#00ff7f"/>
<rect x="1274" y="406" width="5" height="7" fill="#00ff7f"/>
<rect x="1284" y="401" width="1" height="23" fill="#ff0000"/>
<rect x="1282" y="405" width="5" height="7" fill="#ff0000"/>
<rect x="1292" y="384" width="1" height="46" fill="#00ff7f"/>
<rect x="1290" y="400" width="5" height="5" fill="#00ff7f"/>
<rect x="1300" y="401" width="1" height="25" fill="#00ff7f"/>
<rect x="1298" y="406" width="5" height="14" fill="#00ff7f"/>
<rect x="1308" y="345" width="1" height="78" fill="#ff0000"/>
<rect x="1306" y="355" width="5" height="64" fill="#ff0000"/>
<rect x="1316" y="349" width="1" height="19" fill="#00ff7f"/>
<rect x="1314" y="355" width="5" height="9" fill="#00ff7f"/>
<rect x="1324" y="354" width="1" height="22" fill="#ff0000"/>
<rect x="1322" y="355" width="5" height="5" fill="#ff0000"/>
<rect x="1332" y="294" width="1" height="64" fill="#ff0000"/>
<rect x="1330" y="313" width="5" height="45" fill="#ff0000"/>
<rect x="1340" y="292" width="1" height="34" fill="#00ff7f"/>
<rect x="1338" y="313" width="5" height="8" fill="#00ff7f"/>
<rect x="1348" y="319" width="1" height="22" fill="#00ff7f"/>
<rect x="1346" y="320" width="5" height="10" fill="#00ff7f"/>
<rect x="1356" y="327" width="1" height="30" fill="#00ff7f"/>
<rect x="1354" y="338" width="5" height="11" fill="#00ff7f"/>
<rect x="1364" y="328" width="1" height="31" fill="#ff0000"/>
<rect x="1362" y="330" width="5" height="18" fill="#ff0000"/>
<rect x="1372" y="263" width="1" height="68" fill="#ff0000"/>
<rect x="1370" y="285" width="5" height="46" fill="#ff0000"/>
<rect x="1380" y="273" width="1" height="25" fill="#00ff7f"/>
<rect x="1378" y="285" width="5" height="5" fill="#00ff7f"/>
<rect x="1388" y="275" width="1" height="41" fill="#00ff7f"/>
<rect x="1386" y="298" width="5" height="15" fill="#00ff7f"/>
<rect x="1396" y="308" width="1" height="25" fill="#ff0000"/>
<rect x="1394" y="311" width="5" height="2" fill="#ff0000"/>
<rect x="1404" y="295" width="1" height="42" fill="#00ff7f"/>
<rect x="1402" y="308" width="5" height="12" fill="#00ff7f"/>
<rect x="1412" y="312" width="1" height="63" fill="#00ff7f"/>
<rect x="1410" y="318" width="5" height="44" fill="#00ff7f"/>
<rect x="1420" y="366" width="1" height="30" fill="#00ff7f"/>
<rect x="1418" y="366" width="5" height="2" fill="#00ff7f"/>
<rect x="1428" y="366" width="1" height="51" fill="#00ff7f"/>
<rect x="1426" y="369" width="5" height="26" fill="#00ff7f"/>
<rect x="1436" y="397" width="1" height="48" fill="#00ff7f"/>
<rect x="1434" y="407" width="5" height="28" fill="#00ff7f"/>
<rect x="1444" y="414" width="1" height="39" fill="#00ff7f"/>
<rect x="1442" y="437" width="5" height="8" fill="#00ff7f"/>
<rect x="1452" y="411" width="1" height="49" fill="#ff0000"/>
<rect x="1450" y="428" width="5" height="17" fill="#ff0000"/>
<rect x="1460" y="403" width="1" height="31" fill="#ff0000"/>
<rect x="1458" y="411" width="5" height="18" fill="#ff0000"/>
<rect x="1468" y="434" width="1" height="34" fill="#ff0000"/>
<rect x="1466" y="451" width="5" height="11" fill="#ff0000"/>
<rect x="1476" y="420" width="1" height="38" fill="#ff0000"/>
<rect x="1474" y="434" width="5" height="19" fill="#ff0000"/>
<rect x="1484" y="388" width="1" height="42" fill="#ff0000"/>
<rect x="1482" y="415" width="5" height="3" fill="#ff0000"/>
<rect x="1492" y="412" width="1" height="18" fill="#00ff7f"/>
<rect x="1490" y="414" width="5" height="3" fill="#00ff7f"/>
<rect x="1500" y="373" width="1" height="50" fill="#ff0000"/>
<rect x="1498" y="394" width="5" height="29" fill="#ff0000"/>
<rect x="1508" y="383" width="1" height="30" fill="#00ff7f"/>
<rect x="1506" y="394" width="5" height="11" fill="#00ff7f"/>
<rect x="1516" y="353" width="1" height="54" fill="#00ff7f"/>
<rect x="1514" y="387" width="5" height="18" fill="#00ff7f"/>
<rect x="1524" y="376" width="1" height="38" fill="#ff0000"/>
<rect x="1522" y="379" width="5" height="26" fill="#ff0000"/>
<rect x="1532" y="366" width="1" height="41" fill="#ff0000"/>
<rect x="1530" y="372" width="5" height="20" fill="#ff0000"/>
<rect x="1540" y="370" width="1" height="23" fill="#00ff7f"/>
<rect x="1538" y="373" width="5" height="16" fill="#00ff7f"/>
<rect x="1548" y="409" width="1" height="38" fill="#00ff7f"/>
<rect x="1546" y="412" width="5" height="13" fill="#00ff7f"/>
<rect x="1556" y="388" width="1" height="37" fill="#ff0000"/>
<rect x="1554" y="406" width="5" height="19" fill="#ff0000"/>
<rect x="1564" y="391" width="1" height="21" fill="#ff0000"/>
<rect x="1562" y="406" width="5" height="1" fill="#ff0000"/>
<rect x="1572" y="388" width="1" height="19" fill="#ff0000"/>
<rect x="1570" y="404" width="5" height="3" fill="#ff0000"/>
<rect x="1580" y="341" width="1" height="36" fill="#ff0000"/>
<rect x="1578" y="364" width="5" height="10" fill="#ff0000"/>
<rect x="1588" y="342" width="1" height="32" fill="#ff0000"/>
<rect x="1586" y="350" width="5" height="15" fill="#ff0000"/>
<rect x="1596" y="308" width="1" height="36" fill="#ff0000"/>
<rect x="1594" y="334" width="5" height="8" fill="#ff0000"/>
<rect x="1604" y="329" width="1" height="25" fill="#00ff7f"/>
<rect x="1602" y="334" width="5" height="17" fill="#00ff7f"/>
<rect x="1612" y="353" width="1" height="26" fill="#00ff7f"/>
<rect x="1610" y="362" width="5" height="8" fill="#00ff7f"/>
<rect x="1620" y="361" width="1" height="57" fill="#00ff7f"/>
<rect x="1618" y="369" width="5" height="22" fill="#00ff7f"/>
<rect x="1628" y="370" width="1" height="25" fill="#ff0000"/>
<rect x="1626" y="370" width="5" height="25" fill="#ff0000"/>
<rect x="1636" y="332" width="1" height="39" fill="#ff0000"/>
<rect x="1634" y="346" width="5" height="25" fill="#ff0000"/>
<rect x="1644" y="337" width="1" height="45" fill="#00ff7f"/>
<rect x="1642" y="354" width="5" height="12" fill="#00ff7f"/>
<rect x="1652" y="360" width="1" height="15" fill="#00ff7f"/>
<rect x="1650" y="366" width="5" height="6" fill="#00ff7f"/>
<rect x="1660" y="346" width="1" height="46" fill="#ff0000"/>
<rect x="1658" y="348" width="5" height="30" fill="#ff0000"/>
<rect x="1668" y="341" width="1" height="12" fill="#00ff7f"/>
<rect x="1666" y="349" width="5" height="2" fill="#00ff7f"/>
</g>
<path d="M3 151h22v1h-22zM25 150h16v1h-16zM41 149h16v1h-16zM57 148h8v1h-8zM65 147h16v1h-16zM81 146h8v1h-8zM89 145h16v1h-16zM105 144h8v1h-8zM113 143h8v1h-8zM121 142h16v1h-16zM137 141h8v1h-8zM145 140h8v1h-8zM153 139h8v1h-8zM161 138h6v1h-6zM167 137h4v1h-4zM171 136h6v1h-6zM177 135h8v1h-8zM185 134h6v1h-6zM191 133h4v1h-4zM195 132h6v1h-6zM201 131h8v1h-8zM209 130h8v1h-8zM217 129h16v1h-16zM233 128h80v1h-80zM313 129h8v1h-8zM321 130h8v1h-8zM329 131h8v1h-8zM337 132h8v1h-8zM345 133h8v1h-8zM353 134h8v1h-8zM361 135h8v1h-8zM369 136h6v1h-6zM375 137h4v1h-4zM379 138h6v1h-6zM385 139h6v1h-6zM391 140h4v1h-4zM395 141h3v1h-3zM398 142h3v1h-3zM401 143h2v1h-2zM403 144h4v1h-4zM407 145h4v1h-4zM411 146h6v1h-6zM417 147h6v1h-6zM423 148h4v1h-4zM427 149h6v1h-6zM433 150h6v1h-6zM439 151h4v1h-4zM443 152h6v1h-6zM449 153h8v1h-8zM457 154h6v1h-6zM463 155h4v1h-4zM467 156h6v1h-6zM473 157h8v1h-8zM481 158h6v1h-6zM487 159h4v1h-4zM491 160h6v1h-6zM497 161h8v1h-8zM505 162h8v1h-8zM513 163h8v1h-8zM521 164h6v1h-6zM527 165h4v1h-4zM531 166h6v1h-6zM537 167h8v1h-8zM545 168h8v1h-8zM553 169h8v1h-8zM561 170h8v1h-8zM569 171h8v1h-8zM577 172h8v1h-8zM585 173h8v1h-8zM593 174h8v1h-8zM601 175h6v1h-6zM607 176h4v1h-4zM611 177h6v1h-6zM617 178h6v1h-6zM623 179h4v1h-4zM627 180h6v1h-6zM633 181h6v1h-6zM639 182h4v1h-4zM643 183h6v1h-6zM649 184h6v1h-6zM655 185h4v1h-4zM659 186h6v1h-6zM665 187h6v1h-6zM671 188h4v1h-4zM675 189h6v1h-6zM681 190h6v1h-6zM687 191h4v1h-4zM691 192h3v1h-3zM694 193h3v1h-3zM697 194h2v1h-2zM699 195h4v1h-4zM703 196h4v1h-4zM707 197h3v1h-3zM710 198h3v1h-3zM713 199h2v1h-2zM715 200h4v1h-4zM719 201h4v1h-4zM723 202h4v1h-4zM727 203h4v1h-4zM731 204h4v1h-4zM735 205h4v1h-4zM739 206h4v1h-4zM743 207h4v1h-4zM747 208h4v1h-4zM751 209h4v1h-4zM755 210h6v1h-6zM761 211h6v1h-6zM767 212h4v1h-4zM771 213h4v1h-4zM775 214h4v1h-4zM779 215h6v1h-6zM785 216h6v1h-6zM791 217h4v1h-4zM795 218h6v1h-6zM801 219h8v1h-8zM809 220h8v1h-8zM817 221h8v1h-8zM825 222h6v1h-6zM831 223h4v1h-4zM835 224h4v1h-4zM839 225h4v1h-4zM843 226h4v1h-4zM847 227h4v1h-4zM851 228h4v1h-4zM855 229h4v1h-4zM859 230h4v1h-4zM863 231h4v1h-4zM867 232h4v1h-4zM871 233h4v1h-4zM875 234h3v1h-3zM878 235h3v1h-3zM881 236h2v1h-2zM883 237h4v1h-4zM887 238h4v1h-4zM891 239h6v1h-6zM897 240h16v1h-16zM913 241h32v1h-32zM945 242h8v1h-8zM953 243h8v1h-8zM961 244h16v1h-16zM977 245h8v1h-8zM985 246h24v1h-24zM1009 247h24v1h-24zM1033 248h32v1h-32zM1065 249h48v1h-48zM1113 250h16v1h-16zM1129 251h8v1h-8zM1137 252h8v1h-8zM1145 253h8v1h-8zM1153 254h8v1h-8zM1161 255h8v1h-8zM1169 256h16v1h-16zM1185 257h8v1h-8zM1193 258h8v1h-8zM1201 259h8v1h-8zM1209 260h8v1h-8zM1217 261h8v1h-8zM1225 262h8v1h-8zM1233 263h8v1h-8zM1241 264h8v1h-8zM1249 265h8v1h-8zM1257 266h6v1h-6zM1263 267h4v1h-4zM1267 268h6v1h-6zM1273 269h8v1h-8zM1281 270h72v1h-72zM1353 269h40v1h-40zM1393 270h16v1h-16zM1409 271h8v1h-8zM1417 272h16v1h-16zM1433 273h8v1h-8zM1441 274h6v1h-6zM1447 275h4v1h-4zM1451 276h6v1h-6zM1457 277h8v1h-8zM1465 278h8v1h-8zM1473 279h16v1h-16zM1489 280h8v1h-8zM1497 281h8v1h-8zM1505 282h8v1h-8zM1513 283h8v1h-8zM1521 284h16v1h-16zM1537 285h8v1h-8zM1545 286h16v1h-16zM1561 287h24v1h-24zM1585 288h24v1h-24zM1609 289h24v1h-24zM1633 290h8v1h-8zM1641 291h16v1h-16zM1657 292h6v1h-6zM1663 293h4v1h-4zM1667 294h2v1h-2z" fill="#ff0000" shape-rendering="crispEdges"/>
<path d="M3 271h6v1h-6zM9 272h24v1h-24zM33 271h8v1h-8zM41 270h8v1h-8zM49 269h8v1h-8zM57 268h6v1h-6zM63 267h4v1h-4zM67 266h6v1h-6zM73 265h8v1h-8zM81 264h8v1h-8zM89 263h6v1h-6zM95 262h4v1h-4zM99 261h14v1h-14zM113 260h8v1h-8zM121 259h5v1h-5zM126 258h3v1h-3zM129 257h2v1h-2zM131 256h3v1h-3zM134 255h3v1h-3zM137 254h2v1h-2zM139 253h3v1h-3zM142 252h2v1h-2zM144 251h2v1h-2zM146 250h2v1h-2zM148 249h1v1h-1zM149 248h2v1h-2zM151 247h2v1h-2zM153 246h1v1h-1zM154 245h2v1h-2zM156 244h1v1h-1zM157 243h2v1h-2zM159 242h1v1h-1zM160 241h1v1h-1zM161 240h2v1h-2zM163 239h1v1h-1zM164 238h1v1h-1zM165 237h2v1h-2zM167 236h2v1h-2zM169 235h1v1h-1zM170 234h2v1h-2zM172 233h1v1h-1zM173 232h2v1h-2zM175 231h1v1h-1zM176 230h1v1h-1zM177 229h2v1h-2zM179 228h1v1h-1zM180 227h1v1h-1zM181 226h2v1h-2zM183 225h2v1h-2zM185 224h1v1h-1zM186 223h2v1h-2zM188 222h1v1h-1zM189 221h2v1h-2zM191 220h2v1h-2zM193 219h1v1h-1zM194 218h2v1h-2zM196 217h2v1h-2zM198 216h2v1h-2zM200 215h2v1h-2zM202 214h2v1h-2zM204 213h2v1h-2zM206 212h2v1h-2zM208 211h2v1h-2zM210 210h2v1h-2zM212 209h2v1h-2zM214 208h3v1h-3zM217 207h2v1h-2zM219 206h3v1h-3zM222 205h3v1h-3zM225 204h2v1h-2zM227 203h3v1h-3zM230 202h3v1h-3zM233 201h2v1h-2zM235 200h4v1h-4zM239 199h4v1h-4zM243 198h3v1h-3zM246 197h3v1h-3zM249 196h2v1h-2zM251 195h4v1h-4zM255 194h4v1h-4zM259 193h3v1h-3zM262 192h3v1h-3zM265 191h2v1h-2zM267 190h4v1h-4zM271 189h4v1h-4zM275 188h6v1h-6zM281 187h6v1h-6zM287 186h4v1h-4zM291 185h4v1h-4zM295 184h4v1h-4zM299 183h4v1h-4zM303 182h4v1h-4zM307 181h3v1h-3zM310 180h3v1h-3zM313 179h2v1h-2zM315 178h4v1h-4zM319 177h4v1h-4zM323 176h3v1h-3zM326 175h3v1h-3zM329 174h2v1h-2zM331 173h4v1h-4zM335 172h4v1h-4zM339 171h6v1h-6zM345 170h8v1h-8zM353 169h8v1h-8zM361 168h16v1h-16zM377 167h8v1h-8zM385 166h8v1h-8zM393 165h8v1h-8zM401 164h8v1h-8zM409 163h8v1h-8zM417 162h8v1h-8zM425 161h8v1h-8zM433 160h8v1h-8zM441 159h8v1h-8zM449 158h24v1h-24zM473 159h24v1h-24zM497 158h16v1h-16zM513 157h32v1h-32zM545 156h8v1h-8zM553 155h8v1h-8zM561 154h8v1h-8zM569 155h6v1h-6zM575 156h4v1h-4zM579 157h3v1h-3zM582 158h2v1h-2zM584 159h2v1h-2zM586 160h2v1h-2zM588 161h2v1h-2zM590 162h3v1h-3zM593 163h2v1h-2zM595 164h3v1h-3zM598 165h2v1h-2zM600 166h2v1h-2zM602 167h2v1h-2zM604 168h2v1h-2zM606 169h3v1h-3zM609 170h2v1h-2zM611 171h3v1h-3zM614 172h3v1h-3zM617 173h2v1h-2zM619 174h3v1h-3zM622 175h3v1h-3zM625 176h2v1h-2zM627 177h3v1h-3zM630 178h3v1h-3zM633 179h2v1h-2zM635 180h4v1h-4zM639 181h4v1h-4zM643 182h3v1h-3zM646 183h3v1h-3zM649 184h2v1h-2zM651 185h3v1h-3zM654 186h3v1h-3zM657 187h2v1h-2zM659 188h3v1h-3zM662 189h3v1h-3zM665 190h2v1h-2zM667 191h3v1h-3zM670 192h3v1h-3zM673 193h2v1h-2zM675 194h4v1h-4zM679 195h4v1h-4zM683 196h4v1h-4zM687 197h4v1h-4zM691 198h4v1h-4zM695 199h4v1h-4zM699 200h4v1h-4zM703 201h4v1h-4zM707 202h4v1h-4zM711 203h4v1h-4zM715 204h4v1h-4zM719 205h4v1h-4zM723 206h4v1h-4zM727 207h4v1h-4zM731 208h4v1h-4zM735 209h4v1h-4zM739 210h3v1h-3zM742 211h3v1h-3zM745 212h2v1h-2zM747 213h4v1h-4zM751 214h4v1h-4zM755 215h4v1h-4zM759 216h4v1h-4zM763 217h4v1h-4zM767 218h4v1h-4zM771 219h4v1h-4zM775 220h4v1h-4zM779 221h6v1h-6zM785 222h8v1h-8zM793 223h8v1h-8zM801 224h8v1h-8zM809 225h14v1h-14zM823 226h4v1h-4zM827 227h3v1h-3zM830 228h3v1h-3zM833 229h2v1h-2zM835 230h3v1h-3zM838 231h2v1h-2zM840 232h2v1h-2zM842 233h2v1h-2zM844 234h2v1h-2zM846 235h3v1h-3zM849 236h2v1h-2zM851 237h3v1h-3zM854 238h3v1h-3zM857 239h2v1h-2zM859 240h3v1h-3zM862 241h3v1h-3zM865 242h2v1h-2zM867 243h3v1h-3zM870 244h2v1h-2zM872 245h2v1h-2zM874 246h2v1h-2zM876 247h2v1h-2zM878 248h3v1h-3zM881 249h2v1h-2zM883 250h3v1h-3zM886 251h2v1h-2zM888 252h2v1h-2zM890 253h2v1h-2zM892 254h1v1h-1zM893 255h2v1h-2zM895 256h1v1h-1zM896 257h1v1h-1zM897 258h2v1h-2zM899 259h1v1h-1zM900 260h2v1h-2zM902 261h3v1h-3zM905 262h2v1h-2zM907 263h3v1h-3zM910 264h3v1h-3zM913 265h2v1h-2zM915 266h3v1h-3zM918 267h3v1h-3zM921 268h2v1h-2zM923 269h3v1h-3zM926 270h3v1h-3zM929 271h2v1h-2zM931 272h3v1h-3zM934 273h3v1h-3zM937 274h2v1h-2zM939 275h3v1h-3zM942 276h2v1h-2zM944 277h2v1h-2zM946 278h2v1h-2zM948 279h2v1h-2zM950 280h2v1h-2zM952 281h2v1h-2zM954 282h2v1h-2zM956 283h2v1h-2zM958 284h2v1h-2zM960 285h2v1h-2zM962 286h2v1h-2zM964 287h2v1h-2zM966 288h2v1h-2zM968 289h2v1h-2zM970 290h2v1h-2zM972 291h2v1h-2zM974 292h2v1h-2zM976 293h2v1h-2zM978 294h2v1h-2zM980 295h2v1h-2zM982 296h3v1h-3zM985 297h2v1h-2zM987 298h3v1h-3zM990 299h3v1h-3zM993 300h2v1h-2zM995 301h4v1h-4zM999 302h4v1h-4zM1003 303h4v1h-4zM1007 304h4v1h-4zM1011 305h6v1h-6zM1017 306h8v1h-8zM1025 307h8v1h-8zM1033 308h6v1h-6zM1039 309h4v1h-4zM1043 310h6v1h-6zM1049 311h6v1h-6zM1055 312h4v1h-4zM1059 313h4v1h-4zM1063 314h4v1h-4zM1067 315h4v1h-4zM1071 316h4v1h-4zM1075 317h4v1h-4zM1079 318h4v1h-4zM1083 319h4v1h-4zM1087 320h4v1h-4zM1091 321h3v1h-3zM1094 322h3v1h-3zM1097 323h2v1h-2zM1099 324h3v1h-3zM1102 325h2v1h-2zM1104 326h2v1h-2zM1106 327h2v1h-2zM1108 328h1v1h-1zM1109 329h2v1h-2zM1111 330h2v1h-2zM1113 331h1v1h-1zM1114 332h2v1h-2zM1116 333h2v1h-2zM1118 334h2v1h-2zM1120 335h2v1h-2zM1122 336h2v1h-2zM1124 337h1v1h-1zM1125 338h2v1h-2zM1127 339h2v1h-2zM1129 340h1v1h-1zM1130 341h2v1h-2zM1132 342h2v1h-2zM1134 343h2v1h-2zM1136 344h2v1h-2zM1138 345h2v1h-2zM1140 346h2v1h-2zM1142 347h2v1h-2zM1144 348h2v1h-2zM1146 349h2v1h-2zM1148 350h2v1h-2zM1150 351h2v1h-2zM1152 352h2v1h-2zM1154 353h2v1h-2zM1156 354h2v1h-2zM1158 355h3v1h-3zM1161 356h2v1h-2zM1163 357h3v1h-3zM1166 358h3v1h-3zM1169 359h2v1h-2zM1171 360h3v1h-3zM1174 361h2v1h-2zM1176 362h2v1h-2zM1178 363h2v1h-2zM1180 364h2v1h-2zM1182 365h3v1h-3zM1185 366h2v1h-2zM1187 367h3v1h-3zM1190 368h2v1h-2zM1192 369h2v1h-2zM1194 370h2v1h-2zM1196 371h2v1h-2zM1198 372h2v1h-2zM1200 373h2v1h-2zM1202 374h2v1h-2zM1204 375h2v1h-2zM1206 376h2v1h-2zM1208 377h2v1h-2zM1210 378h2v1h-2zM1212 379h2v1h-2zM1214 380h2v1h-2zM1216 381h2v1h-2zM1218 382h2v1h-2zM1220 383h2v1h-2zM1222 384h2v1h-2zM1224 385h2v1h-2zM1226 386h2v1h-2zM1228 387h1v1h-1zM1229 388h2v1h-2zM1231 389h2v1h-2zM1233 390h1v1h-1zM1234 391h2v1h-2zM1236 392h1v1h-1zM1237 393h2v1h-2zM1239 394h2v1h-2zM1241 395h1v1h-1zM1242 396h2v1h-2zM1244 397h2v1h-2zM1246 398h2v1h-2zM1248 399h2v1h-2zM1250 400h2v1h-2zM1252 401h2v1h-2zM1254 402h3v1h-3zM1257 403h2v1h-2zM1259 404h6v1h-6zM1265 405h30v1h-30zM1295 404h4v1h-4zM1299 403h4v1h-4zM1303 402h4v1h-4zM1307 401h3v1h-3zM1310 400h3v1h-3zM1313 399h2v1h-2zM1315 398h4v1h-4zM1319 397h4v1h-4zM1323 396h4v1h-4zM1327 395h4v1h-4zM1331 394h4v1h-4zM1335 393h4v1h-4zM1339 392h6v1h-6zM1345 391h8v1h-8zM1353 390h8v1h-8zM1361 389h8v1h-8zM1369 388h8v1h-8zM1377 387h6v1h-6zM1383 386h4v1h-4zM1387 385h6v1h-6zM1393 384h38v1h-38zM1431 385h4v1h-4zM1435 386h6v1h-6zM1441 387h6v1h-6zM1447 388h4v1h-4zM1451 389h4v1h-4zM1455 390h4v1h-4zM1459 391h3v1h-3zM1462 392h2v1h-2zM1464 393h2v1h-2zM1466 394h2v1h-2zM1468 395h3v1h-3zM1471 396h4v1h-4zM1475 397h6v1h-6zM1481 398h8v1h-8zM1489 399h8v1h-8zM1497 400h8v1h-8zM1505 401h24v1h-24zM1529 402h24v1h-24zM1553 401h8v1h-8zM1561 400h8v1h-8zM1569 399h5v1h-5zM1574 398h2v1h-2zM1576 397h2v1h-2zM1578 396h2v1h-2zM1580 395h5v1h-5zM1585 394h6v1h-6zM1591 393h4v1h-4zM1595 392h6v1h-6zM1601 391h16v1h-16zM1617 390h8v1h-8zM1625 389h6v1h-6zM1631 388h4v1h-4zM1635 387h4v1h-4zM1639 386h4v1h-4zM1643 385h4v1h-4zM1647 384h4v1h-4zM1651 383h6v1h-6zM1657 382h8v1h-8zM1665 381h4v1h-4z" fill="#ff00ff" shape-rendering="crispEdges"/>
<path d="M3 259h2v1h-2zM5 260h2v1h-2zM7 261h1v1h-1zM8 262h1v1h-1zM9 263h2v1h-2zM11 264h1v1h-1zM12 265h2v1h-2zM14 266h3v1h-3zM17 267h2v1h-2zM19 268h6v1h-6zM25 267h5v1h-5zM30 266h3v1h-3zM33 265h2v1h-2zM35 264h2v1h-2zM37 263h2v1h-2zM39 262h2v1h-2zM41 261h1v1h-1zM42 260h2v1h-2zM44 259h1v1h-1zM45 258h2v1h-2zM47 257h2v1h-2zM49 256h1v1h-1zM50 255h2v1h-2zM52 254h3v1h-3zM55 253h4v1h-4zM59 252h4v1h-4zM63 251h4v1h-4zM67 250h6v1h-6zM73 249h8v1h-8zM81 248h8v1h-8zM89 247h4v1h-4zM93 246h2v1h-2zM95 245h2v1h-2zM97 244h1v1h-1zM98 243h2v1h-2zM100 242h2v1h-2zM102 241h3v1h-3zM105 240h2v1h-2zM107 239h6v1h-6zM113 238h5v1h-5zM118 237h2v1h-2zM120 236h2v1h-2zM122 235h2v1h-2zM124 234h1v1h-1zM125 233h2v1h-2zM127 232h2v1h-2zM129 231h1v1h-1zM130 230h2v1h-2zM132 229h1v1h-1zM133 228h1v1h-1zM134 226h1v2h-1zM135 225h1v1h-1zM136 224h1v1h-1zM137 223h1v1h-1zM138 221h1v2h-1zM139 220h1v1h-1zM140 219h1v1h-1zM141 218h1v1h-1zM142 216h1v2h-1zM143 215h1v1h-1zM144 214h1v1h-1zM145 213h1v1h-1zM146 211h1v2h-1zM147 210h1v1h-1zM148 209h1v1h-1zM149 208h1v1h-1zM150 206h1v2h-1zM151 205h1v1h-1zM152 204h1v1h-1zM153 203h1v1h-1zM154 201h1v2h-1zM155 200h1v1h-1zM156 199h1v1h-1zM157 198h1v1h-1zM158 196h1v2h-1zM159 195h1v1h-1zM160 194h1v1h-1zM161 193h1v1h-1zM162 191h1v2h-1zM163 190h1v1h-1zM164 189h1v1h-1zM165 187h1v2h-1zM166 186h1v1h-1zM167 185h1v1h-1zM168 183h1v2h-1zM169 182h1v1h-1zM170 181h1v1h-1zM171 179h1v2h-1zM172 178h1v1h-1zM173 176h1v2h-1zM174 175h1v1h-1zM175 174h1v1h-1zM176 172h1v2h-1zM177 171h1v1h-1zM178 170h1v1h-1zM179 168h1v2h-1zM180 167h1v1h-1zM181 165h1v2h-1zM182 164h1v1h-1zM183 162h1v2h-1zM184 161h1v1h-1zM185 159h1v2h-1zM186 158h1v1h-1zM187 156h1v2h-1zM188 155h1v1h-1zM189 154h1v1h-1zM190 153h1v1h-1zM191 152h1v1h-1zM192 151h1v1h-1zM193 150h1v1h-1zM194 149h1v1h-1zM195 148h1v1h-1zM196 147h1v1h-1zM197 146h2v1h-2zM199 145h1v1h-1zM200 144h1v1h-1zM201 143h2v1h-2zM203 142h1v1h-1zM204 141h1v1h-1zM205 140h2v1h-2zM207 139h2v1h-2zM209 138h1v1h-1zM210 137h2v1h-2zM212 136h1v1h-1zM213 135h2v1h-2zM215 134h2v1h-2zM217 133h1v1h-1zM218 132h2v1h-2zM220 131h2v1h-2zM222 130h3v1h-3zM225 129h2v1h-2zM227 128h3v1h-3zM230 127h2v1h-2zM232 126h2v1h-2zM234 125h2v1h-2zM236 124h2v1h-2zM238 123h3v1h-3zM241 122h2v1h-2zM243 121h3v1h-3zM246 120h3v1h-3zM249 119h2v1h-2zM251 118h3v1h-3zM254 117h3v1h-3zM257 116h2v1h-2zM259 115h3v1h-3zM262 114h3v1h-3zM265 113h2v1h-2zM267 112h2v1h-2zM269 111h1v1h-1zM270 110h1v1h-1zM271 109h2v1h-2zM273 108h1v1h-1zM274 107h1v1h-1zM275 106h1v1h-1zM276 105h2v1h-2zM278 104h2v1h-2zM280 103h2v1h-2zM282 102h2v1h-2zM284 101h2v1h-2zM286 100h2v1h-2zM288 99h2v1h-2zM290 98h2v1h-2zM292 97h2v1h-2zM294 96h3v1h-3zM297 95h2v1h-2zM299 94h6v1h-6zM305 95h5v1h-5zM310 96h3v1h-3zM313 97h2v1h-2zM315 98h3v1h-3zM318 99h3v1h-3zM321 100h2v1h-2zM323 101h6v1h-6zM329 102h8v1h-8zM337 103h6v1h-6zM343 104h4v1h-4zM347 105h2v1h-2zM349 106h2v1h-2zM351 107h2v1h-2zM353 108h1v1h-1zM354 109h2v1h-2zM356 110h1v1h-1zM357 111h2v1h-2zM359 112h2v1h-2zM361 113h1v1h-1zM362 114h2v1h-2zM364 115h1v1h-1zM365 116h2v1h-2zM367 117h1v1h-1zM368 118h1v1h-1zM369 119h2v1h-2zM371 120h1v1h-1zM372 121h1v1h-1zM373 122h1v1h-1zM374 123h1v1h-1zM375 124h2v1h-2zM377 125h1v1h-1zM378 126h1v1h-1zM379 127h1v1h-1zM380 128h1v1h-1zM381 129h1v1h-1zM382 130h1v1h-1zM383 131h1v1h-1zM384 132h1v1h-1zM385 133h1v1h-1zM386 134h1v1h-1zM387 135h1v1h-1zM388 136h1v1h-1zM389 137h1v1h-1zM390 138h1v1h-1zM391 139h1v1h-1zM392 140h1v1h-1zM393 141h1v1h-1zM394 142h1v1h-1zM395 143h1v1h-1zM396 144h1v1h-1zM397 145h1v1h-1zM398 146h1v1h-1zM399 147h1v1h-1zM400 148h1v1h-1zM401 149h1v1h-1zM402 150h1v1h-1zM403 151h1v1h-1zM404 152h1v1h-1zM405 153h1v1h-1zM406 154h1v1h-1zM407 155h1v1h-1zM408 156h1v1h-1zM409 157h1v1h-1zM410 158h1v1h-1zM411 159h1v1h-1zM412 160h1v1h-1zM413 161h1v1h-1zM414 162h1v1h-1zM415 163h1v1h-1zM416 164h1v1h-1zM417 165h1v1h-1zM418 166h1v1h-1zM419 167h1v1h-1zM420 168h1v1h-1zM421 169h1v1h-1zM422 170h1v1h-1zM423 171h2v1h-2zM425 172h1v1h-1zM426 173h1v1h-1zM427 174h1v1h-1zM428 175h1v1h-1zM429 176h2v1h-2zM431 177h1v1h-1zM432 178h1v1h-1zM433 179h2v1h-2zM435 180h1v1h-1zM436 181h1v1h-1zM437 182h1v1h-1zM438 183h1v1h-1zM439 184h2v1h-2zM441 185h1v1h-1zM442 186h1v1h-1zM443 187h1v1h-1zM444 188h1v1h-1zM445 189h2v1h-2zM447 190h2v1h-2zM449 191h1v1h-1zM450 192h2v1h-2zM452 193h2v1h-2zM454 194h3v1h-3zM457 195h2v1h-2zM459 196h2v1h-2zM461 197h2v1h-2zM463 198h2v1h-2zM465 199h1v1h-1zM466 200h2v1h-2zM468 201h1v1h-1zM469 202h2v1h-2zM471 203h2v1h-2zM473 204h1v1h-1zM474 205h2v1h-2zM476 206h2v1h-2zM478 207h3v1h-3zM481 208h2v1h-2zM483 209h12v1h-12zM495 210h4v1h-4zM499 211h3v1h-3zM502 212h3v1h-3zM505 213h2v1h-2zM507 214h6v1h-6zM513 215h8v1h-8zM521 216h14v1h-14zM535 215h4v1h-4zM539 214h3v1h-3zM542 213h3v1h-3zM545 212h2v1h-2zM547 211h3v1h-3zM550 210h3v1h-3zM553 209h2v1h-2zM555 208h3v1h-3zM558 207h3v1h-3zM561 206h2v1h-2zM563 205h6v1h-6zM569 204h16v1h-16zM585 203h48v1h-48zM633 204h8v1h-8zM641 205h5v1h-5zM646 206h3v1h-3zM649 207h2v1h-2zM651 208h2v1h-2zM653 209h2v1h-2zM655 210h1v1h-1zM656 211h1v1h-1zM657 212h2v1h-2zM659 213h1v1h-1zM660 214h2v1h-2zM662 215h2v1h-2zM664 216h2v1h-2zM666 217h2v1h-2zM668 218h2v1h-2zM670 219h2v1h-2zM672 220h2v1h-2zM674 221h2v1h-2zM676 222h2v1h-2zM678 223h3v1h-3zM681 224h2v1h-2zM683 225h6v1h-6zM689 226h6v1h-6zM695 227h4v1h-4zM699 228h3v1h-3zM702 229h2v1h-2zM704 230h2v1h-2zM706 231h2v1h-2zM708 232h2v1h-2zM710 233h2v1h-2zM712 234h2v1h-2zM714 235h2v1h-2zM716 236h2v1h-2zM718 237h3v1h-3zM721 238h2v1h-2zM723 239h6v1h-6zM729 240h16v1h-16zM745 239h6v1h-6zM751 238h4v1h-4zM755 237h6v1h-6zM761 236h6v1h-6zM767 235h4v1h-4zM771 234h6v1h-6zM777 233h8v1h-8zM785 232h30v1h-30zM815 231h4v1h-4zM819 230h2v1h-2zM821 231h2v1h-2zM823 232h2v1h-2zM825 233h1v1h-1zM826 234h2v1h-2zM828 235h1v1h-1zM829 236h1v1h-1zM830 237h1v1h-1zM831 238h2v1h-2zM833 239h1v1h-1zM834 240h1v1h-1zM835 241h1v1h-1zM836 242h1v1h-1zM837 243h1v1h-1zM838 244h1v1h-1zM839 245h2v1h-2zM841 246h1v1h-1zM842 247h1v1h-1zM843 248h1v1h-1zM844 249h1v1h-1zM845 250h1v2h-1zM846 252h1v2h-1zM847 254h1v2h-1zM848 256h1v2h-1zM849 258h1v2h-1zM850 260h1v2h-1zM851 262h1v2h-1zM852 264h1v1h-1zM853 265h1v2h-1zM854 267h1v2h-1zM855 269h1v2h-1zM856 271h1v1h-1zM857 272h1v2h-1zM858 274h1v2h-1zM859 276h1v2h-1zM860 278h1v1h-1zM861 279h1v2h-1zM862 281h1v1h-1zM863 282h1v1h-1zM864 283h1v2h-1zM865 285h1v1h-1zM866 286h1v1h-1zM867 287h1v2h-1zM868 289h1v1h-1zM869 290h1v1h-1zM870 291h1v2h-1zM871 293h1v1h-1zM872 294h1v1h-1zM873 295h1v1h-1zM874 296h1v2h-1zM875 298h1v1h-1zM876 299h1v1h-1zM877 300h1v1h-1zM878 301h1v2h-1zM879 303h1v1h-1zM880 304h1v1h-1zM881 305h1v1h-1zM882 306h1v2h-1zM883 308h1v1h-1zM884 309h1v1h-1zM885 310h1v2h-1zM886 312h1v2h-1zM887 314h1v1h-1zM888 315h1v2h-1zM889 317h1v1h-1zM890 318h1v2h-1zM891 320h1v2h-1zM892 322h1v1h-1zM893 323h1v1h-1zM894 324h1v2h-1zM895 326h1v1h-1zM896 327h1v1h-1zM897 328h1v1h-1zM898 329h1v2h-1zM899 331h1v1h-1zM900 332h1v1h-1zM901 333h1v1h-1zM902 334h1v1h-1zM903 335h2v1h-2zM905 336h1v1h-1zM906 337h1v1h-1zM907 338h1v1h-1zM908 339h1v1h-1zM909 340h2v1h-2zM911 341h1v1h-1zM912 342h1v1h-1zM913 343h2v1h-2zM915 344h1v1h-1zM916 345h1v1h-1zM917 346h2v1h-2zM919 347h1v1h-1zM920 348h1v1h-1zM921 349h2v1h-2zM923 350h1v1h-1zM924 351h1v1h-1zM925 352h2v1h-2zM927 353h1v1h-1zM928 354h1v1h-1zM929 355h2v1h-2zM931 356h1v1h-1zM932 357h1v1h-1zM933 358h1v1h-1zM934 359h1v1h-1zM935 360h2v1h-2zM937 361h1v1h-1zM938 362h1v1h-1zM939 363h1v1h-1zM940 364h1v1h-1zM941 365h2v1h-2zM943 366h1v1h-1zM944 367h1v1h-1zM945 368h2v1h-2zM947 369h1v1h-1zM948 370h1v1h-1zM949 371h1v1h-1zM950 372h1v1h-1zM951 373h2v1h-2zM953 374h1v1h-1zM954 375h1v1h-1zM955 376h1v1h-1zM956 377h1v1h-1zM957 378h1v1h-1zM958 379h1v1h-1zM959 380h1v1h-1zM960 381h1v1h-1zM961 382h1v1h-1zM962 383h1v1h-1zM963 384h1v1h-1zM964 385h1v1h-1zM965 386h1v1h-1zM966 387h1v1h-1zM967 388h2v1h-2zM969 389h1v1h-1zM970 390h1v1h-1zM971 391h1v1h-1zM972 392h1v1h-1zM973 393h1v1h-1zM974 394h1v1h-1zM975 395h2v1h-2zM977 396h1v1h-1zM978 397h1v1h-1zM979 398h1v1h-1zM980 399h2v1h-2zM982 400h2v1h-2zM984 401h2v1h-2zM986 402h2v1h-2zM988 403h5v1h-5zM993 402h6v1h-6zM999 401h4v1h-4zM1003 400h3v1h-3zM1006 399h2v1h-2zM1008 398h2v1h-2zM1010 397h2v1h-2zM1012 396h1v1h-1zM1013 395h1v1h-1zM1014 394h1v1h-1zM1015 393h2v1h-2zM1017 392h1v1h-1zM1018 391h1v1h-1zM1019 390h1v1h-1zM1020 389h1v1h-1zM1021 388h1v1h-1zM1022 387h1v1h-1zM1023 386h1v1h-1zM1024 384h1v2h-1zM1025 383h1v1h-1zM1026 382h1v1h-1zM1027 381h1v1h-1zM1028 380h1v1h-1zM1029 379h1v1h-1zM1030 378h1v1h-1zM1031 377h1v1h-1zM1032 376h1v1h-1zM1033 375h1v1h-1zM1034 374h1v1h-1zM1035 373h1v1h-1zM1036 372h1v1h-1zM1037 371h2v1h-2zM1039 370h1v1h-1zM1040 369h1v1h-1zM1041 368h2v1h-2zM1043 367h1v1h-1zM1044 366h2v1h-2zM1046 365h2v1h-2zM1048 364h2v1h-2zM1050 363h2v1h-2zM1052 362h1v1h-1zM1053 361h2v1h-2zM1055 360h1v1h-1zM1056 359h1v1h-1zM1057 358h2v1h-2zM1059 357h1v1h-1zM1060 356h1v1h-1zM1061 355h2v1h-2zM1063 354h2v1h-2zM1065 353h1v1h-1zM1066 352h2v1h-2zM1068 351h5v1h-5zM1073 350h8v1h-8zM1081 349h6v1h-6zM1087 350h4v1h-4zM1091 351h4v1h-4zM1095 352h4v1h-4zM1099 353h6v1h-6zM1105 354h5v1h-5zM1110 355h3v1h-3zM1113 356h2v1h-2zM1115 357h2v1h-2zM1117 358h2v1h-2zM1119 359h2v1h-2zM1121 360h1v1h-1zM1122 361h2v1h-2zM1124 362h1v1h-1zM1125 363h2v1h-2zM1127 364h2v1h-2zM1129 365h1v1h-1zM1130 366h2v1h-2zM1132 367h1v1h-1zM1133 368h2v1h-2zM1135 369h1v1h-1zM1136 370h1v1h-1zM1137 371h2v1h-2zM1139 372h1v1h-1zM1140 373h1v1h-1zM1141 374h2v1h-2zM1143 375h2v1h-2zM1145 376h1v1h-1zM1146 377h2v1h-2zM1148 378h2v1h-2zM1150 379h2v1h-2zM1152 380h2v1h-2zM1154 381h2v1h-2zM1156 382h2v1h-2zM1158 383h3v1h-3zM1161 384h2v1h-2zM1163 385h3v1h-3zM1166 386h3v1h-3zM1169 387h2v1h-2zM1171 388h2v1h-2zM1173 389h2v1h-2zM1175 390h2v1h-2zM1177 391h1v1h-1zM1178 392h2v1h-2zM1180 393h1v1h-1zM1181 394h2v1h-2zM1183 395h1v1h-1zM1184 396h1v1h-1zM1185 397h2v1h-2zM1187 398h1v1h-1zM1188 399h1v1h-1zM1189 400h2v1h-2zM1191 401h1v1h-1zM1192 402h1v1h-1zM1193 403h2v1h-2zM1195 404h1v1h-1zM1196 405h1v1h-1zM1197 406h2v1h-2zM1199 407h1v1h-1zM1200 408h1v1h-1zM1201 409h2v1h-2zM1203 410h1v1h-1zM1204 411h1v1h-1zM1205 412h2v1h-2zM1207 413h1v1h-1zM1208 414h1v1h-1zM1209 415h2v1h-2zM1211 416h1v1h-1zM1212 417h1v1h-1zM1213 418h2v1h-2zM1215 419h2v1h-2zM1217 420h1v1h-1zM1218 421h2v1h-2zM1220 422h2v1h-2zM1222 423h2v1h-2zM1224 424h2v1h-2zM1226 425h2v1h-2zM1228 426h1v1h-1zM1229 427h2v1h-2zM1231 428h1v1h-1zM1232 429h1v1h-1zM1233 430h2v1h-2zM1235 431h1v1h-1zM1236 432h1v1h-1zM1237 433h1v1h-1zM1238 434h1v1h-1zM1239 435h2v1h-2zM1241 436h1v1h-1zM1242 437h1v1h-1zM1243 438h1v1h-1zM1244 439h1v1h-1zM1245 440h2v1h-2zM1247 441h2v1h-2zM1249 442h1v1h-1zM1250 443h2v1h-2zM1252 444h5v1h-5zM1257 443h16v1h-16zM1273 444h8v1h-8zM1281 443h6v1h-6zM1287 442h4v1h-4zM1291 441h3v1h-3zM1294 440h2v1h-2zM1296 439h2v1h-2zM1298 438h2v1h-2zM1300 437h1v1h-1zM1301 436h1v1h-1zM1302 435h1v1h-1zM1303 434h2v1h-2zM1305 433h1v1h-1zM1306 432h1v1h-1zM1307 431h1v1h-1zM1308 430h1v1h-1zM1309 429h2v1h-2zM1311 428h1v1h-1zM1312 427h1v1h-1zM1313 426h2v1h-2zM1315 425h1v1h-1zM1316 424h2v1h-2zM1318 423h2v1h-2zM1320 422h2v1h-2zM1322 421h2v1h-2zM1324 420h1v1h-1zM1325 419h2v1h-2zM1327 418h2v1h-2zM1329 417h1v1h-1zM1330 416h2v1h-2zM1332 415h2v1h-2zM1334 414h2v1h-2zM1336 413h2v1h-2zM1338 412h2v1h-2zM1340 411h2v1h-2zM1342 410h3v1h-3zM1345 409h2v1h-2zM1347 408h3v1h-3zM1350 407h3v1h-3zM1353 406h2v1h-2zM1355 405h2v1h-2zM1357 404h1v1h-1zM1358 403h1v1h-1zM1359 402h2v1h-2zM1361 401h1v1h-1zM1362 400h1v1h-1zM1363 399h1v1h-1zM1364 398h1v1h-1zM1365 397h1v1h-1zM1366 396h1v1h-1zM1367 395h2v1h-2zM1369 394h1v1h-1zM1370 393h1v1h-1zM1371 392h1v1h-1zM1372 391h1v1h-1zM1373 390h1v1h-1zM1374 389h1v1h-1zM1375 388h1v1h-1zM1376 387h1v1h-1zM1377 386h1v1h-1zM1378 385h1v1h-1zM1379 384h1v1h-1zM1380 383h1v1h-1zM1381 382h1v1h-1zM1382 381h1v1h-1zM1383 380h2v1h-2zM1385 379h1v1h-1zM1386 378h1v1h-1zM1387 377h1v1h-1zM1388 376h1v1h-1zM1389 375h2v1h-2zM1391 374h1v1h-1zM1392 373h1v1h-1zM1393 372h2v1h-2zM1395 371h1v1h-1zM1396 370h1v1h-1zM1397 369h1v1h-1zM1398 368h1v1h-1zM1399 367h2v1h-2zM1401 366h1v1h-1zM1402 365h1v1h-1zM1403 364h1v1h-1zM1404 363h1v1h-1zM1405 362h1v1h-1zM1406 361h1v1h-1zM1407 360h2v1h-2zM1409 359h1v1h-1zM1410 358h1v1h-1zM1411 357h1v1h-1zM1412 356h2v1h-2zM1414 355h3v1h-3zM1417 354h2v1h-2zM1419 353h6v1h-6zM1425 352h8v1h-8zM1433 353h8v1h-8zM1441 354h8v1h-8zM1449 355h8v1h-8zM1457 356h8v1h-8zM1465 357h5v1h-5zM1470 358h3v1h-3zM1473 359h2v1h-2zM1475 360h3v1h-3zM1478 361h3v1h-3zM1481 362h2v1h-2zM1483 363h3v1h-3zM1486 364h2v1h-2zM1488 365h2v1h-2zM1490 366h2v1h-2zM1492 367h2v1h-2zM1494 368h2v1h-2zM1496 369h2v1h-2zM1498 370h2v1h-2zM1500 371h2v1h-2zM1502 372h2v1h-2zM1504 373h2v1h-2zM1506 374h2v1h-2zM1508 375h2v1h-2zM1510 376h3v1h-3zM1513 377h2v1h-2zM1515 378h4v1h-4zM1519 379h4v1h-4zM1523 380h4v1h-4zM1527 381h4v1h-4zM1531 382h2v1h-2zM1533 383h2v1h-2zM1535 384h2v1h-2zM1537 385h1v1h-1zM1538 386h2v1h-2zM1540 387h1v1h-1zM1541 388h2v1h-2zM1543 389h1v1h-1zM1544 390h1v1h-1zM1545 391h2v1h-2zM1547 392h1v1h-1zM1548 393h1v1h-1zM1549 394h2v1h-2zM1551 395h2v1h-2zM1553 396h1v1h-1zM1554 397h2v1h-2zM1556 398h2v1h-2zM1558 399h2v1h-2zM1560 400h2v1h-2zM1562 401h2v1h-2zM1564 402h2v1h-2zM1566 403h3v1h-3zM1569 404h2v1h-2zM1571 405h6v1h-6zM1577 406h13v1h-13zM1590 405h3v1h-3zM1593 404h2v1h-2zM1595 403h3v1h-3zM1598 402h2v1h-2zM1600 401h2v1h-2zM1602 400h2v1h-2zM1604 399h2v1h-2zM1606 398h2v1h-2zM1608 397h2v1h-2zM1610 396h2v1h-2zM1612 395h3v1h-3zM1615 394h4v1h-4zM1619 393h4v1h-4zM1623 392h4v1h-4zM1627 391h2v1h-2zM1629 390h2v1h-2zM1631 389h2v1h-2zM1633 388h1v1h-1zM1634 387h2v1h-2zM1636 386h2v1h-2zM1638 385h2v1h-2zM1640 384h2v1h-2zM1642 383h2v1h-2zM1644 382h3v1h-3zM1647 381h4v1h-4zM1651 380h3v1h-3zM1654 379h3v1h-3zM1657 378h2v1h-2zM1659 377h6v1h-6zM1665 376h4v1h-4z" fill="#ffa500" shape-rendering="crispEdges"/>
<path d="M4 620h3v1h-3zM10 621h1v1h-1zM11 622h2v1h-2zM16 623h3v1h-3zM22 624h3v1h-3zM28 625h3v1h-3zM34 624h3v1h-3zM40 623h3v1h-3zM46 622h3v1h-3zM52 621h2v1h-2zM54 620h1v1h-1zM58 618h2v1h-2zM60 617h1v1h-1zM64 616h1v1h-1zM65 615h2v1h-2zM70 613h2v1h-2zM72 612h1v1h-1zM76 610h2v1h-2zM78 609h1v1h-1zM82 607h2v1h-2zM84 606h1v1h-1zM88 604h2v1h-2zM90 603h1v1h-1zM94 601h2v1h-2zM96 600h1v1h-1zM100 598h2v1h-2zM102 597h1v1h-1zM106 596h1v1h-1zM107 595h2v1h-2zM112 595h1v1h-1zM113 594h2v1h-2zM118 594h3v1h-3zM124 594h3v1h-3zM130 594h3v1h-3zM136 594h3v1h-3zM142 594h3v1h-3zM148 594h3v1h-3zM154 593h3v1h-3zM160 592h1v1h-1zM161 591h2v1h-2zM166 590h3v1h-3zM172 589h3v1h-3zM178 588h1v1h-1zM179 587h2v1h-2zM184 586h3v1h-3zM190 584h2v1h-2zM192 583h1v1h-1zM196 581h2v1h-2zM198 580h1v1h-1zM202 578h2v1h-2zM204 577h1v1h-1zM208 576h3v1h-3zM214 575h3v1h-3zM220 574h3v1h-3zM226 573h3v1h-3zM232 573h3v1h-3zM238 573h3v1h-3zM244 574h3v1h-3zM250 575h1v1h-1zM251 576h2v1h-2zM256 576h1v1h-1zM257 577h2v1h-2zM262 578h3v1h-3zM268 580h2v1h-2zM270 581h1v1h-1zM274 582h1v1h-1zM275 583h2v1h-2zM280 584h3v1h-3zM286 586h3v1h-3zM292 588h2v1h-2zM294 589h1v1h-1zM298 591h2v1h-2zM300 592h1v1h-1zM304 593h1v1h-1zM305 594h2v1h-2zM310 596h3v1h-3zM316 598h2v1h-2zM318 599h1v1h-1zM322 600h1v1h-1zM323 601h2v1h-2zM328 602h3v1h-3zM334 603h1v1h-1zM335 604h2v1h-2zM340 605h3v1h-3zM346 606h1v1h-1zM347 607h2v1h-2zM352 607h1v1h-1zM353 608h2v1h-2zM358 608h1v1h-1zM359 609h2v1h-2zM364 610h3v1h-3zM370 611h1v1h-1zM371 612h2v1h-2zM376 613h1v1h-1zM377 614h2v1h-2zM382 616h3v1h-3zM388 618h2v1h-2zM390 619h1v1h-1zM394 620h1v1h-1zM395 621h2v1h-2zM400 623h2v1h-2zM402 624h1v1h-1zM406 626h1v1h-1zM407 627h2v1h-2zM412 630h2v1h-2zM414 631h1v1h-1zM418 633h2v1h-2zM420 634h1v1h-1zM424 636h1v1h-1zM425 637h1v1h-1zM426 638h1v1h-1zM430 640h2v1h-2zM432 641h1v1h-1zM436 643h2v1h-2zM438 644h1v1h-1zM442 645h1v1h-1zM443 646h2v1h-2zM448 647h3v1h-3zM454 648h3v1h-3zM460 649h3v1h-3zM466 649h3v1h-3zM472 649h1v1h-1zM473 648h2v1h-2zM478 648h3v1h-3zM484 647h3v1h-3zM490 646h1v1h-1zM491 645h2v1h-2zM496 643h2v1h-2zM498 642h1v1h-1zM502 640h3v1h-3zM508 638h1v1h-1zM509 637h2v1h-2zM514 634h2v1h-2zM516 633h1v1h-1zM520 631h2v1h-2zM522 630h1v1h-1zM526 628h3v1h-3zM532 626h2v1h-2zM534 625h1v1h-1zM538 623h2v1h-2zM540 622h1v1h-1zM544 621h1v1h-1zM545 620h2v1h-2zM550 618h3v1h-3zM556 616h3v1h-3zM562 615h1v1h-1zM563 614h2v1h-2zM568 614h3v1h-3zM574 614h3v1h-3zM580 615h3v1h-3zM586 616h3v1h-3zM592 617h3v1h-3zM598 619h3v1h-3zM604 621h3v1h-3zM610 622h1v1h-1zM611 623h2v1h-2zM616 624h1v1h-1zM617 625h2v1h-2zM622 626h1v1h-1zM623 627h2v1h-2zM628 628h3v1h-3zM634 629h1v1h-1zM635 630h2v1h-2zM640 630h1v1h-1zM641 631h2v1h-2zM646 631h3v1h-3zM652 632h3v1h-3zM658 633h3v1h-3zM664 633h3v1h-3zM670 633h3v1h-3zM676 632h3v1h-3zM682 631h3v1h-3zM688 631h1v1h-1zM689 630h2v1h-2zM694 630h3v1h-3zM700 629h3v1h-3zM706 628h3v1h-3zM712 628h1v1h-1zM713 627h2v1h-2zM718 627h3v1h-3zM724 626h3v1h-3zM730 625h3v1h-3zM736 625h1v1h-1zM737 624h2v1h-2zM742 624h3v1h-3zM748 623h3v1h-3zM754 623h3v1h-3zM760 623h3v1h-3zM766 623h3v1h-3zM772 623h3v1h-3zM778 623h3v1h-3zM784 623h1v1h-1zM785 622h2v1h-2zM790 622h3v1h-3zM796 621h3v1h-3zM802 621h3v1h-3zM808 621h1v1h-1zM809 620h2v1h-2zM814 620h3v1h-3zM820 620h3v1h-3zM826 620h3v1h-3zM832 621h3v1h-3zM838 622h1v1h-1zM839 623h2v1h-2zM844 624h1v1h-1zM845 625h2v1h-2zM850 628h2v1h-2zM852 629h1v1h-1zM856 631h1v1h-1zM857 632h1v1h-1zM858 633h1v1h-1zM862 636h1v1h-1zM863 637h1v1h-1zM864 638h1v1h-1zM868 642h1v1h-1zM869 643h1v1h-1zM870 644h1v1h-1zM874 647h1v1h-1zM875 648h1v1h-1zM876 649h1v1h-1zM880 652h1v1h-1zM881 653h1v1h-1zM882 654h1v1h-1zM886 658h1v1h-1zM887 659h2v1h-2zM892 663h1v1h-1zM893 664h2v1h-2zM898 667h1v1h-1zM899 668h1v1h-1zM900 669h1v1h-1zM904 671h2v1h-2zM906 672h1v1h-1zM910 673h1v1h-1zM911 674h2v1h-2zM916 675h3v1h-3zM922 675h3v1h-3zM928 675h1v1h-1zM929 674h2v1h-2zM934 673h2v1h-2zM936 672h1v1h-1zM940 670h2v1h-2zM942 669h1v1h-1zM946 668h1v1h-1zM947 667h2v1h-2zM952 665h1v1h-1zM953 664h1v1h-1zM954 663h1v1h-1zM958 661h1v1h-1zM959 660h1v1h-1zM960 659h1v1h-1zM964 656h2v1h-2zM966 655h1v1h-1zM970 653h2v1h-2zM972 652h1v1h-1zM976 650h2v1h-2zM978 649h1v1h-1zM982 647h2v1h-2zM984 646h1v1h-1zM988 644h2v1h-2zM990 643h1v1h-1zM994 641h2v1h-2zM996 640h1v1h-1zM1000 639h1v1h-1zM1001 638h2v1h-2zM1006 636h2v1h-2zM1008 635h1v1h-1zM1012 633h2v1h-2zM1014 632h1v1h-1zM1018 631h1v1h-1zM1019 630h2v1h-2zM1024 629h1v1h-1zM1025 628h2v1h-2zM1030 626h3v1h-3zM1036 624h2v1h-2zM1038 623h1v1h-1zM1042 622h1v1h-1zM1043 621h2v1h-2zM1048 620h1v1h-1zM1049 619h2v1h-2zM1054 618h3v1h-3zM1060 617h3v1h-3zM1066 616h3v1h-3zM1072 616h1v1h-1zM1073 615h2v1h-2zM1078 615h3v1h-3zM1084 614h3v1h-3zM1090 615h3v1h-3zM1096 615h1v1h-1zM1097 616h2v1h-2zM1102 616h1v1h-1zM1103 617h2v1h-2zM1108 618h3v1h-3zM1114 619h1v1h-1zM1115 620h2v1h-2zM1120 621h1v1h-1zM1121 622h2v1h-2zM1126 623h1v1h-1zM1127 624h2v1h-2zM1132 625h2v1h-2zM1134 626h1v1h-1zM1138 628h2v1h-2zM1140 629h1v1h-1zM1144 631h2v1h-2zM1146 632h1v1h-1zM1150 634h2v1h-2zM1152 635h1v1h-1zM1156 637h2v1h-2zM1158 638h1v1h-1zM1162 639h1v1h-1zM1163 640h2v1h-2zM1168 640h1v1h-1zM1169 641h2v1h-2zM1174 641h3v1h-3zM1180 642h3v1h-3zM1186 643h3v1h-3zM1192 643h3v1h-3zM1198 643h3v1h-3zM1204 643h3v1h-3zM1210 642h1v1h-1zM1211 641h2v1h-2zM1216 641h1v1h-1zM1217 640h2v1h-2zM1222 640h3v1h-3zM1228 639h3v1h-3zM1234 638h3v1h-3zM1240 638h3v1h-3zM1246 638h3v1h-3zM1252 638h3v1h-3zM1258 637h3v1h-3zM1264 637h1v1h-1zM1265 636h2v1h-2zM1270 636h3v1h-3zM1276 635h3v1h-3zM1282 634h3v1h-3zM1288 633h3v1h-3zM1294 632h1v1h-1zM1295 631h2v1h-2zM1300 630h2v1h-2zM1302 629h1v1h-1zM1306 628h1v1h-1zM1307 627h2v1h-2zM1312 626h1v1h-1zM1313 625h2v1h-2zM1318 623h2v1h-2zM1320 622h1v1h-1zM1324 620h2v1h-2zM1326 619h1v1h-1zM1330 618h1v1h-1zM1331 617h2v1h-2zM1336 615h2v1h-2zM1338 614h1v1h-1zM1342 612h2v1h-2zM1344 611h1v1h-1zM1348 609h2v1h-2zM1350 608h1v1h-1zM1354 606h2v1h-2zM1356 605h1v1h-1zM1360 605h1v1h-1zM1361 604h2v1h-2zM1366 603h2v1h-2zM1368 602h1v1h-1zM1372 600h2v1h-2zM1374 599h1v1h-1zM1378 598h1v1h-1zM1379 597h2v1h-2zM1384 596h3v1h-3zM1390 594h3v1h-3zM1396 592h3v1h-3zM1402 591h1v1h-1zM1403 590h2v1h-2zM1408 590h3v1h-3zM1414 590h3v1h-3zM1420 590h3v1h-3zM1426 591h3v1h-3zM1432 591h1v1h-1zM1433 592h2v1h-2zM1438 593h3v1h-3zM1444 595h1v1h-1zM1445 596h2v1h-2zM1450 599h2v1h-2zM1452 600h1v1h-1zM1456 602h1v1h-1zM1457 603h1v1h-1zM1458 604h1v1h-1zM1462 606h2v1h-2zM1464 607h1v1h-1zM1468 609h2v1h-2zM1470 610h1v1h-1zM1474 612h2v1h-2zM1476 613h1v1h-1zM1480 615h2v1h-2zM1482 616h1v1h-1zM1486 618h1v1h-1zM1487 619h2v1h-2zM1492 622h2v1h-2zM1494 623h1v1h-1zM1498 624h1v1h-1zM1499 625h2v1h-2zM1504 626h3v1h-3zM1510 627h3v1h-3zM1516 628h3v1h-3zM1522 628h3v1h-3zM1528 628h3v1h-3zM1534 628h3v1h-3zM1540 627h3v1h-3zM1546 626h3v1h-3zM1552 626h1v1h-1zM1553 625h2v1h-2zM1558 625h3v1h-3zM1564 624h3v1h-3zM1570 623h3v1h-3zM1576 623h1v1h-1zM1577 622h2v1h-2zM1582 622h3v1h-3zM1588 621h3v1h-3zM1594 620h1v1h-1zM1595 619h2v1h-2zM1600 619h1v1h-1zM1601 618h2v1h-2zM1606 618h3v1h-3zM1612 617h3v1h-3zM1618 616h1v1h-1zM1619 615h2v1h-2zM1624 615h1v1h-1zM1625 614h2v1h-2zM1630 614h3v1h-3zM1636 613h2v1h-2zM1638 612h1v1h-1zM1642 611h1v1h-1zM1643 610h2v1h-2zM1648 610h3v1h-3zM1654 610h3v1h-3zM1660 609h3v1h-3zM1666 609h3v1h-3z" fill="#ff0000" shape-rendering="crispEdges"/>
<path d="M4 752h1v1h-1zM5 753h1v1h-1zM6 754h1v1h-1zM7 755h1v1h-1zM8 756h1v1h-1zM9 757h1v1h-1zM10 758h1v1h-1zM11 759h1v1h-1zM12 760h9v1h-9zM21 758h1v2h-1zM22 756h1v2h-1zM23 754h1v2h-1zM24 752h1v2h-1zM25 750h1v2h-1zM26 748h1v2h-1zM27 746h1v2h-1zM28 745h2v1h-2zM30 744h3v1h-3zM33 743h2v1h-2zM35 742h2v1h-2zM37 741h1v1h-1zM38 740h1v1h-1zM39 739h2v1h-2zM41 738h1v1h-1zM42 737h1v1h-1zM43 736h1v1h-1zM44 735h3v1h-3zM47 736h4v1h-4zM51 737h14v1h-14zM65 736h6v1h-6zM71 737h4v1h-4zM75 738h6v1h-6zM81 739h5v1h-5zM86 740h2v1h-2zM88 741h2v1h-2zM90 742h2v1h-2zM92 743h2v1h-2zM94 742h3v1h-3zM97 741h2v1h-2zM99 740h2v1h-2zM101 741h1v2h-1zM102 743h1v1h-1zM103 744h1v1h-1zM104 745h1v2h-1zM105 747h1v1h-1zM106 748h1v1h-1zM107 749h1v2h-1zM108 751h3v1h-3zM111 752h4v1h-4zM115 753h4v1h-4zM119 752h4v1h-4zM123 751h3v1h-3zM126 750h3v1h-3zM129 749h2v1h-2zM131 748h2v1h-2zM132 747h1v1h-1zM133 745h1v2h-1zM134 743h1v2h-1zM135 741h1v2h-1zM136 739h1v2h-1zM137 737h1v2h-1zM138 735h1v2h-1zM139 733h1v2h-1zM140 732h1v1h-1zM141 731h2v1h-2zM143 730h2v1h-2zM145 729h1v1h-1zM146 728h2v1h-2zM148 727h3v1h-3zM151 728h4v1h-4zM155 729h6v1h-6zM161 728h14v1h-14zM175 727h4v1h-4zM179 726h3v1h-3zM182 727h3v1h-3zM185 728h2v1h-2zM187 729h4v1h-4zM191 730h4v1h-4zM195 731h2v1h-2zM197 732h2v1h-2zM199 733h1v1h-1zM200 734h1v1h-1zM201 735h2v1h-2zM203 736h1v1h-1zM204 737h2v1h-2zM206 736h2v1h-2zM208 735h2v1h-2zM210 734h2v1h-2zM212 733h3v1h-3zM215 734h4v1h-4zM219 735h6v1h-6zM225 734h4v1h-4zM229 735h1v2h-1zM230 737h1v1h-1zM231 738h1v2h-1zM232 740h1v1h-1zM233 741h1v2h-1zM234 743h1v1h-1zM235 744h1v2h-1zM236 746h3v1h-3zM239 745h4v1h-4zM243 744h10v1h-10zM253 745h1v1h-1zM254 746h1v2h-1zM255 748h1v1h-1zM256 749h1v1h-1zM257 750h1v1h-1zM258 751h1v2h-1zM259 753h1v1h-1zM260 754h1v1h-1zM261 753h1v1h-1zM262 752h1v1h-1zM263 751h2v1h-2zM265 750h1v1h-1zM266 749h1v1h-1zM267 748h1v1h-1zM268 747h5v1h-5zM273 748h4v1h-4zM277 749h1v1h-1zM278 750h1v1h-1zM279 751h2v1h-2zM281 752h1v1h-1zM282 753h1v1h-1zM283 754h1v1h-1zM284 755h1v1h-1zM285 754h2v1h-2zM287 753h1v1h-1zM288 752h1v1h-1zM289 751h2v1h-2zM291 750h1v1h-1zM292 749h1v1h-1zM293 750h1v1h-1zM294 751h1v1h-1zM295 752h1v1h-1zM296 753h1v1h-1zM297 754h1v1h-1zM298 755h1v1h-1zM299 756h1v1h-1zM300 757h11v1h-11zM311 756h4v1h-4zM315 755h10v1h-10zM325 753h1v2h-1zM326 752h1v1h-1zM327 751h1v1h-1zM328 749h1v2h-1zM329 748h1v1h-1zM330 747h1v1h-1zM331 745h1v2h-1zM332 744h2v1h-2zM334 745h2v1h-2zM336 746h2v1h-2zM338 747h2v1h-2zM340 748h1v1h-1zM341 749h1v1h-1zM342 750h1v1h-1zM343 751h2v1h-2zM345 752h1v1h-1zM346 753h1v1h-1zM347 754h1v1h-1zM348 755h2v1h-2zM350 756h3v1h-3zM353 757h2v1h-2zM355 758h2v1h-2zM357 759h1v1h-1zM358 760h1v1h-1zM359 761h1v1h-1zM360 762h1v2h-1zM361 764h1v1h-1zM362 765h1v1h-1zM363 766h1v1h-1zM364 767h5v1h-5zM369 766h4v1h-4zM373 767h1v1h-1zM374 768h1v1h-1zM375 769h2v1h-2zM377 770h1v1h-1zM378 771h1v1h-1zM379 772h1v1h-1zM380 773h5v1h-5zM385 774h6v1h-6zM391 775h4v1h-4zM395 776h6v1h-6zM401 777h5v1h-5zM406 778h3v1h-3zM409 779h2v1h-2zM411 780h2v1h-2zM413 779h1v1h-1zM414 778h1v1h-1zM415 777h1v1h-1zM416 776h1v1h-1zM417 775h1v1h-1zM418 774h1v1h-1zM419 773h1v1h-1zM420 772h2v1h-2zM422 773h3v1h-3zM425 774h2v1h-2zM427 775h2v1h-2zM429 774h2v1h-2zM431 773h1v1h-1zM432 772h1v1h-1zM433 771h2v1h-2zM435 770h1v1h-1zM436 769h3v1h-3zM439 768h4v1h-4zM443 767h6v1h-6zM449 766h4v1h-4zM453 764h1v2h-1zM454 763h1v1h-1zM455 762h1v1h-1zM456 760h1v2h-1zM457 759h1v1h-1zM458 758h1v1h-1zM459 756h1v2h-1zM460 755h2v1h-2zM462 756h3v1h-3zM465 757h2v1h-2zM467 758h6v1h-6zM473 759h4v1h-4zM477 758h2v1h-2zM479 757h2v1h-2zM481 756h1v1h-1zM482 755h2v1h-2zM484 754h1v1h-1zM485 752h1v2h-1zM486 750h1v2h-1zM487 749h1v1h-1zM488 747h1v2h-1zM489 746h1v1h-1zM490 744h1v2h-1zM491 742h1v2h-1zM492 741h5v1h-5zM497 740h20v1h-20zM517 741h1v2h-1zM518 743h1v2h-1zM519 745h1v1h-1zM520 746h1v2h-1zM521 748h1v1h-1zM522 749h1v2h-1zM523 751h1v2h-1zM524 753h5v1h-5zM529 752h5v1h-5zM534 751h2v1h-2zM536 750h2v1h-2zM538 749h2v1h-2zM540 748h5v1h-5zM545 747h5v1h-5zM550 748h3v1h-3zM553 749h2v1h-2zM555 750h3v1h-3zM558 751h2v1h-2zM560 752h2v1h-2zM562 753h2v1h-2zM564 754h1v1h-1zM565 755h1v2h-1zM566 757h1v2h-1zM567 759h1v1h-1zM568 760h1v2h-1zM569 762h1v1h-1zM570 763h1v2h-1zM571 765h1v2h-1zM572 767h2v1h-2zM574 768h2v1h-2zM576 769h2v1h-2zM578 770h2v1h-2zM580 771h5v1h-5zM585 770h5v1h-5zM590 769h3v1h-3zM593 768h2v1h-2zM595 767h3v1h-3zM598 768h2v1h-2zM600 769h2v1h-2zM602 770h2v1h-2zM604 771h1v1h-1zM605 770h1v1h-1zM606 769h1v1h-1zM607 768h2v1h-2zM609 767h1v1h-1zM610 766h1v1h-1zM611 765h1v1h-1zM612 764h1v1h-1zM613 763h1v1h-1zM614 761h1v2h-1zM615 760h1v1h-1zM616 759h1v1h-1zM617 758h1v1h-1zM618 756h1v2h-1zM619 755h1v1h-1zM620 754h5v1h-5zM625 753h4v1h-4zM629 754h1v1h-1zM630 755h1v1h-1zM631 756h2v1h-2zM633 757h1v1h-1zM634 758h1v1h-1zM635 759h1v1h-1zM636 760h5v1h-5zM641 761h4v1h-4zM645 762h1v1h-1zM646 763h1v1h-1zM647 764h1v1h-1zM648 765h1v1h-1zM649 766h1v1h-1zM650 767h1v1h-1zM651 768h1v1h-1zM652 769h1v1h-1zM653 768h2v1h-2zM655 767h1v1h-1zM656 766h1v1h-1zM657 765h2v1h-2zM659 764h1v1h-1zM660 763h1v1h-1zM661 761h1v2h-1zM662 759h1v2h-1zM663 757h1v2h-1zM664 756h1v1h-1zM665 754h1v2h-1zM666 752h1v2h-1zM667 750h1v2h-1zM668 749h2v1h-2zM670 750h3v1h-3zM673 751h2v1h-2zM675 752h6v1h-6zM681 751h6v1h-6zM687 750h4v1h-4zM691 749h2v1h-2zM693 750h1v1h-1zM694 751h1v1h-1zM695 752h1v1h-1zM696 753h1v2h-1zM697 755h1v1h-1zM698 756h1v1h-1zM699 757h1v1h-1zM700 758h5v1h-5zM705 759h6v1h-6zM711 758h4v1h-4zM715 757h2v1h-2zM717 756h1v1h-1zM718 755h1v1h-1zM719 754h1v1h-1zM720 753h1v1h-1zM721 752h1v1h-1zM722 751h1v1h-1zM723 750h1v1h-1zM724 749h1v1h-1zM725 750h2v1h-2zM727 751h2v1h-2zM729 752h1v1h-1zM730 753h2v1h-2zM732 754h2v1h-2zM734 755h2v1h-2zM736 756h2v1h-2zM738 757h2v1h-2zM740 758h3v1h-3zM743 759h4v1h-4zM747 760h2v1h-2zM749 759h1v1h-1zM750 758h1v1h-1zM751 757h2v1h-2zM753 756h1v1h-1zM754 755h1v1h-1zM755 754h1v1h-1zM756 753h1v1h-1zM757 754h2v1h-2zM759 755h2v1h-2zM761 756h1v1h-1zM762 757h2v1h-2zM764 758h2v1h-2zM766 757h3v1h-3zM769 756h2v1h-2zM771 755h2v1h-2zM773 754h2v1h-2zM775 753h2v1h-2zM777 752h1v1h-1zM778 751h2v1h-2zM780 750h5v1h-5zM785 749h8v1h-8zM793 748h8v1h-8zM801 749h4v1h-4zM805 750h1v1h-1zM806 751h1v2h-1zM807 753h1v1h-1zM808 754h1v1h-1zM809 755h1v1h-1zM810 756h1v2h-1zM811 758h1v1h-1zM812 759h9v1h-9zM820 760h1v1h-1zM821 761h1v2h-1zM822 763h1v2h-1zM823 765h1v2h-1zM824 767h1v3h-1zM825 770h1v2h-1zM826 772h1v2h-1zM827 774h1v2h-1zM828 776h1v2h-1zM829 777h1v1h-1zM830 778h3v1h-3zM833 779h2v1h-2zM835 780h6v1h-6zM841 781h4v1h-4zM845 782h1v1h-1zM846 783h1v1h-1zM847 784h1v1h-1zM848 785h1v2h-1zM849 787h1v1h-1zM850 788h1v1h-1zM851 789h1v1h-1zM852 790h2v1h-2zM854 789h3v1h-3zM857 788h2v1h-2zM859 787h10v1h-10zM869 786h1v1h-1zM870 784h1v2h-1zM871 783h1v1h-1zM872 782h1v1h-1zM873 781h1v1h-1zM874 779h1v2h-1zM875 778h1v1h-1zM876 777h3v1h-3zM879 776h4v1h-4zM883 775h3v1h-3zM886 776h3v1h-3zM889 777h2v1h-2zM891 778h6v1h-6zM897 777h4v1h-4zM900 776h1v1h-1zM901 774h1v2h-1zM902 772h1v2h-1zM903 769h1v3h-1zM904 767h1v2h-1zM905 764h1v3h-1zM906 762h1v2h-1zM907 760h1v2h-1zM908 758h1v2h-1zM909 758h4v1h-4zM913 759h6v1h-6zM919 758h4v1h-4zM923 757h11v1h-11zM934 756h3v1h-3zM937 755h2v1h-2zM939 754h14v1h-14zM953 753h5v1h-5zM958 754h2v1h-2zM960 755h2v1h-2zM962 756h2v1h-2zM964 757h2v1h-2zM966 758h2v1h-2zM968 759h2v1h-2zM970 760h2v1h-2zM972 761h2v1h-2zM974 760h3v1h-3zM977 759h2v1h-2zM979 758h2v1h-2zM981 756h1v2h-1zM982 755h1v1h-1zM983 754h1v1h-1zM984 752h1v2h-1zM985 751h1v1h-1zM986 750h1v1h-1zM987 748h1v2h-1zM988 747h2v1h-2zM990 748h3v1h-3zM993 749h2v1h-2zM995 750h3v1h-3zM998 751h2v1h-2zM1000 752h2v1h-2zM1002 753h2v1h-2zM1004 754h1v1h-1zM1005 752h1v2h-1zM1006 750h1v2h-1zM1007 749h1v1h-1zM1008 747h1v2h-1zM1009 746h1v1h-1zM1010 744h1v2h-1zM1011 742h1v2h-1zM1012 741h2v1h-2zM1014 742h3v1h-3zM1017 743h2v1h-2zM1019 744h3v1h-3zM1022 745h3v1h-3zM1025 746h2v1h-2zM1027 747h3v1h-3zM1030 748h2v1h-2zM1032 749h2v1h-2zM1034 750h2v1h-2zM1036 751h5v1h-5zM1041 752h5v1h-5zM1046 753h2v1h-2zM1048 754h2v1h-2zM1050 755h2v1h-2zM1052 756h3v1h-3zM1055 755h4v1h-4zM1059 754h19v1h-19zM1078 755h2v1h-2zM1080 756h2v1h-2zM1082 757h2v1h-2zM1084 758h1v1h-1zM1085 759h1v2h-1zM1086 761h1v1h-1zM1087 762h1v2h-1zM1088 764h1v1h-1zM1089 765h1v2h-1zM1090 767h1v1h-1zM1091 768h1v2h-1zM1092 770h1v1h-1zM1093 769h1v1h-1zM1094 768h1v1h-1zM1095 767h1v1h-1zM1096 766h1v1h-1zM1097 765h1v1h-1zM1098 764h1v1h-1zM1099 763h1v1h-1zM1100 762h3v1h-3zM1103 761h4v1h-4zM1107 760h2v1h-2zM1109 761h1v1h-1zM1110 762h1v1h-1zM1111 763h1v1h-1zM1112 764h1v1h-1zM1113 765h1v1h-1zM1114 766h1v1h-1zM1115 767h1v1h-1zM1116 768h9v1h-9zM1125 769h1v2h-1zM1126 771h1v1h-1zM1127 772h1v1h-1zM1128 773h1v2h-1zM1129 775h1v1h-1zM1130 776h1v1h-1zM1131 777h1v2h-1zM1132 779h2v1h-2zM1134 778h3v1h-3zM1137 777h2v1h-2zM1139 776h2v1h-2zM1141 775h1v1h-1zM1142 773h1v2h-1zM1143 772h1v1h-1zM1144 771h1v1h-1zM1145 770h1v1h-1zM1146 768h1v2h-1zM1147 767h1v1h-1zM1148 766h3v1h-3zM1151 765h4v1h-4zM1155 764h2v1h-2zM1157 763h1v1h-1zM1158 762h1v1h-1zM1159 761h1v1h-1zM1160 759h1v2h-1zM1161 758h1v1h-1zM1162 757h1v1h-1zM1163 756h1v1h-1zM1164 755h13v1h-13zM1177 756h8v1h-8zM1185 755h4v1h-4zM1189 756h1v1h-1zM1190 757h1v1h-1zM1191 758h1v1h-1zM1192 759h1v1h-1zM1193 760h1v1h-1zM1194 761h1v1h-1zM1195 762h1v1h-1zM1196 763h3v1h-3zM1199 764h4v1h-4zM1203 765h2v1h-2zM1205 764h1v1h-1zM1206 763h1v1h-1zM1207 762h2v1h-2zM1209 761h1v1h-1zM1210 760h1v1h-1zM1211 759h1v1h-1zM1212 758h2v1h-2zM1214 759h3v1h-3zM1217 760h2v1h-2zM1219 761h6v1h-6zM1225 762h8v1h-8zM1233 763h4v1h-4zM1237 764h1v1h-1zM1238 765h1v1h-1zM1239 766h1v1h-1zM1240 767h1v1h-1zM1241 768h1v1h-1zM1242 769h1v1h-1zM1243 770h1v1h-1zM1244 771h1v1h-1zM1245 769h1v2h-1zM1246 768h1v1h-1zM1247 766h1v2h-1zM1248 765h1v1h-1zM1249 763h1v2h-1zM1250 762h1v1h-1zM1251 760h1v2h-1zM1252 759h1v1h-1zM1253 757h1v2h-1zM1254 756h1v1h-1zM1255 754h1v2h-1zM1256 753h1v1h-1zM1257 751h1v2h-1zM1258 750h1v1h-1zM1259 748h1v2h-1zM1260 747h3v1h-3zM1263 748h4v1h-4zM1267 749h4v1h-4zM1271 750h4v1h-4zM1275 751h6v1h-6zM1281 750h13v1h-13zM1294 751h3v1h-3zM1297 752h2v1h-2zM1299 753h2v1h-2zM1301 751h1v2h-1zM1302 750h1v1h-1zM1303 748h1v2h-1zM1304 747h1v1h-1zM1305 745h1v2h-1zM1306 744h1v1h-1zM1307 742h1v2h-1zM1308 741h3v1h-3zM1311 742h4v1h-4zM1315 743h6v1h-6zM1321 742h4v1h-4zM1325 741h1v1h-1zM1326 740h1v1h-1zM1327 739h2v1h-2zM1329 738h1v1h-1zM1330 737h1v1h-1zM1331 736h1v1h-1zM1332 735h3v1h-3zM1335 736h4v1h-4zM1339 737h4v1h-4zM1343 738h4v1h-4zM1347 739h2v1h-2zM1349 740h2v1h-2zM1351 741h2v1h-2zM1353 742h1v1h-1zM1354 743h2v1h-2zM1356 744h2v1h-2zM1358 743h3v1h-3zM1361 742h2v1h-2zM1363 741h2v1h-2zM1365 740h1v1h-1zM1366 739h1v1h-1zM1367 738h2v1h-2zM1369 737h1v1h-1zM1370 736h1v1h-1zM1371 735h1v1h-1zM1372 734h5v1h-5zM1377 735h4v1h-4zM1381 736h2v1h-2zM1383 737h1v1h-1zM1384 738h1v1h-1zM1385 739h2v1h-2zM1387 740h1v1h-1zM1388 741h11v1h-11zM1399 742h4v1h-4zM1403 743h2v1h-2zM1405 744h1v1h-1zM1406 745h1v2h-1zM1407 747h1v1h-1zM1408 748h1v1h-1zM1409 749h1v1h-1zM1410 750h1v2h-1zM1411 752h1v1h-1zM1412 753h3v1h-3zM1415 754h4v1h-4zM1419 755h2v1h-2zM1421 756h2v1h-2zM1423 757h2v1h-2zM1425 758h1v1h-1zM1426 759h2v1h-2zM1428 760h1v1h-1zM1429 761h1v1h-1zM1430 762h1v1h-1zM1431 763h1v1h-1zM1432 764h1v1h-1zM1433 765h1v1h-1zM1434 766h1v1h-1zM1435 767h1v1h-1zM1436 768h5v1h-5zM1441 769h5v1h-5zM1446 768h2v1h-2zM1448 767h2v1h-2zM1450 766h2v1h-2zM1452 765h1v1h-1zM1453 764h2v1h-2zM1455 763h2v1h-2zM1457 762h1v1h-1zM1458 761h2v1h-2zM1460 760h1v1h-1zM1461 761h1v1h-1zM1462 762h1v1h-1zM1463 763h1v1h-1zM1464 764h1v1h-1zM1465 765h1v1h-1zM1466 766h1v1h-1zM1467 767h1v1h-1zM1468 768h1v1h-1zM1469 767h2v1h-2zM1471 766h2v1h-2zM1473 765h1v1h-1zM1474 764h2v1h-2zM1476 763h2v1h-2zM1478 762h2v1h-2zM1480 761h2v1h-2zM1482 760h2v1h-2zM1484 759h9v1h-9zM1493 758h2v1h-2zM1495 757h1v1h-1zM1496 756h1v1h-1zM1497 755h2v1h-2zM1499 754h1v1h-1zM1500 753h2v1h-2zM1502 754h3v1h-3zM1505 755h2v1h-2zM1507 756h10v1h-10zM1517 755h2v1h-2zM1519 754h1v1h-1zM1520 753h1v1h-1zM1521 752h2v1h-2zM1523 751h1v1h-1zM1524 750h3v1h-3zM1527 749h4v1h-4zM1531 748h3v1h-3zM1534 749h2v1h-2zM1536 750h2v1h-2zM1538 751h2v1h-2zM1540 752h1v1h-1zM1541 753h1v1h-1zM1542 754h1v1h-1zM1543 755h1v1h-1zM1544 756h1v2h-1zM1545 758h1v1h-1zM1546 759h1v1h-1zM1547 760h1v1h-1zM1548 761h1v1h-1zM1549 760h2v1h-2zM1551 759h2v1h-2zM1553 758h1v1h-1zM1554 757h2v1h-2zM1556 756h17v1h-17zM1573 754h1v2h-1zM1574 753h1v1h-1zM1575 752h1v1h-1zM1576 750h1v2h-1zM1577 749h1v1h-1zM1578 748h1v1h-1zM1579 746h1v2h-1zM1580 745h2v1h-2zM1582 744h3v1h-3zM1585 743h2v1h-2zM1587 742h3v1h-3zM1590 741h3v1h-3zM1593 740h2v1h-2zM1595 739h2v1h-2zM1597 740h2v1h-2zM1599 741h2v1h-2zM1601 742h1v1h-1zM1602 743h2v1h-2zM1604 744h1v1h-1zM1605 745h2v1h-2zM1607 746h2v1h-2zM1609 747h1v1h-1zM1610 748h2v1h-2zM1612 749h1v1h-1zM1613 750h2v1h-2zM1615 751h1v1h-1zM1616 752h1v1h-1zM1617 753h2v1h-2zM1619 754h1v1h-1zM1620 755h1v1h-1zM1621 754h2v1h-2zM1623 753h2v1h-2zM1625 752h1v1h-1zM1626 751h2v1h-2zM1628 750h1v1h-1zM1629 749h2v1h-2zM1631 748h1v1h-1zM1632 747h1v1h-1zM1633 746h2v1h-2zM1635 745h1v1h-1zM1636 744h1v1h-1zM1637 745h2v1h-2zM1639 746h1v1h-1zM1640 747h1v1h-1zM1641 748h2v1h-2zM1643 749h1v1h-1zM1644 750h5v1h-5zM1649 751h4v1h-4zM1653 750h2v1h-2zM1655 749h2v1h-2zM1657 748h1v1h-1zM1658 747h2v1h-2zM1660 746h9v1h-9z" fill="#1e90ff" shape-rendering="crispEdges"/>
<g shape-rendering="crispEdges">
<rect x="4" y="184" width="1685" height="2" fill="#ff0000"/>
<rect x="4" y="299" width="1685" height="2" fill="#ff0000"/>
<rect x="4" y="407" width="1685" height="2" fill="#32cd32"/>
<rect x="4" y="493" width="1685" height="2" fill="#4169e1"/>
<rect x="3" y="0" width="1" height="562" fill="#000"/>
<rect x="3" y="561" width="1687" height="1" fill="#000"/>
<rect x="1689" y="0" width="1" height="562" fill="#000"/>
<rect x="3" y="563" width="1687" height="1" fill="#000"/>
<rect x="3" y="688" width="1687" height="1" fill="#000"/>
<rect x="3" y="563" width="1" height="126" fill="#000"/>
<rect x="1689" y="563" width="1" height="126" fill="#000"/>
<rect x="3" y="690" width="1687" height="1" fill="#000"/>
<rect x="3" y="815" width="1687" height="1" fill="#000"/>
<rect x="3" y="690" width="1" height="126" fill="#000"/>
<rect x="1689" y="690" width="1" height="126" fill="#000"/>
<rect x="1690" y="30" width="2" height="1" fill="#000"/>
<rect x="1690" y="63" width="2" height="1" fill="#000"/>
<rect x="1690" y="96" width="2" height="1" fill="#000"/>
<rect x="1690" y="129" width="2" height="1" fill="#000"/>
<rect x="1690" y="162" width="2" height="1" fill="#000"/>
<rect x="1690" y="195" width="2" height="1" fill="#000"/>
<rect x="1690" y="228" width="2" height="1" fill="#000"/>
<rect x="1690" y="261" width="2" height="1" fill="#000"/>
<rect x="1690" y="294" width="2" height="1" fill="#000"/>
<rect x="1690" y="327" width="2" height="1" fill="#000"/>
<rect x="1690" y="360" width="2" height="1" fill="#000"/>
<rect x="1690" y="393" width="2" height="1" fill="#000"/>
<rect x="1690" y="426" width="2" height="1" fill="#000"/>
<rect x="1690" y="459" width="2" height="1" fill="#000"/>
<rect x="1690" y="492" width="2" height="1" fill="#000"/>
<rect x="1690" y="525" width="2" height="1" fill="#000"/>
<rect x="1690" y="558" width="2" height="1" fill="#000"/>
<rect x="1690" y="565" width="1" height="1" fill="#000"/>
<rect x="1690" y="616" width="1" height="1" fill="#000"/>
<rect x="1690" y="687" width="1" height="1" fill="#000"/>
<rect x="1690" y="692" width="1" height="1" fill="#000"/>
<rect x="1690" y="814" width="1" height="1" fill="#000"/>
<rect x="4" y="816" width="1" height="3" fill="#000"/>
<rect x="68" y="816" width="1" height="3" fill="#000"/>
<rect x="132" y="816" width="1" height="3" fill="#000"/>
<rect x="196" y="816" width="1" height="3" fill="#000"/>
<rect x="260" y="816" width="1" height="3" fill="#000"/>
<rect x="324" y="816" width="1" height="3" fill="#000"/>
<rect x="388" y="816" width="1" height="3" fill="#000"/>
<rect x="452" y="816" width="1" height="3" fill="#000"/>
<rect x="516" y="816" width="1" height="3" fill="#000"/>
<rect x="580" y="816" width="1" height="3" fill="#000"/>
<rect x="644" y="816" width="1" height="3" fill="#000"/>
<rect x="708" y="816" width="1" height="3" fill="#000"/>
<rect x="772" y="816" width="1" height="3" fill="#000"/>
<rect x="836" y="816" width="1" height="3" fill="#000"/>
<rect x="900" y="816" width="1" height="3" fill="#000"/>
<rect x="964" y="816" width="1" height="3" fill="#000"/>
<rect x="1028" y="816" width="1" height="3" fill="#000"/>
<rect x="1092" y="816" width="1" height="3" fill="#000"/>
<rect x="1156" y="816" width="1" height="3" fill="#000"/>
<rect x="1220" y="816" width="1" height="3" fill="#000"/>
<rect x="1284" y="816" width="1" height="3" fill="#000"/>
<rect x="1348" y="816" width="1" height="3" fill="#000"/>
<rect x="1412" y="816" width="1" height="3" fill="#000"/>
<rect x="1476" y="816" width="1" height="3" fill="#000"/>
<rect x="1540" y="816" width="1" height="3" fill="#000"/>
<rect x="1604" y="816" width="1" height="3" fill="#000"/>
<rect x="1668" y="816" width="1" height="3" fill="#000"/>
<rect x="7" y="6" width="7" height="1" fill="#000"/>
<rect x="8" y="7" width="5" height="1" fill="#000"/>
<rect x="9" y="8" width="3" height="1" fill="#000"/>
<rect x="10" y="9" width="1" height="1" fill="#000"/>
</g>
<text class="t" x="19" y="11" textLength="65" lengthAdjust="spacingAndGlyphs">CHINA300-,H4</text>
<text class="t" x="89.5" y="11" textLength="122" lengthAdjust="spacingAndGlyphs">4931.7 4942.2 4927.7 4930.2</text>
<text class="t" x="8" y="576" textLength="118" lengthAdjust="spacingAndGlyphs">MACD(12,26,9) 12.85 10.62</text>
<text class="t" x="8" y="703" textLength="68" lengthAdjust="spacingAndGlyphs">RSI(14) 55.5121</text>
<text class="t" x="1695" y="34" textLength="28" lengthAdjust="spacingAndGlyphs">5376.0</text>
<text class="t" x="1695" y="67" textLength="28" lengthAdjust="spacingAndGlyphs">5330.0</text>
<text class="t" x="1695" y="100" textLength="28" lengthAdjust="spacingAndGlyphs">5284.0</text>
<text class="t" x="1695" y="133" textLength="28" lengthAdjust="spacingAndGlyphs">5238.0</text>
<text class="t" x="1695" y="166" textLength="28" lengthAdjust="spacingAndGlyphs">5192.0</text>
<text class="t" x="1695" y="199" textLength="28" lengthAdjust="spacingAndGlyphs">5146.0</text>
<text class="t" x="1695" y="232" textLength="28" lengthAdjust="spacingAndGlyphs">5100.0</text>
<text class="t" x="1695" y="265" textLength="28" lengthAdjust="spacingAndGlyphs">5054.0</text>
<text class="t" x="1695" y="298" textLength="28" lengthAdjust="spacingAndGlyphs">5008.0</text>
<text class="t" x="1695" y="331" textLength="28" lengthAdjust="spacingAndGlyphs">4962.0</text>
<text class="t" x="1695" y="364" textLength="28" lengthAdjust="spacingAndGlyphs">4916.0</text>
<text class="t" x="1695" y="397" textLength="28" lengthAdjust="spacingAndGlyphs">4870.0</text>
<text class="t" x="1695" y="430" textLength="28" lengthAdjust="spacingAndGlyphs">4824.0</text>
<text class="t" x="1695" y="463" textLength="28" lengthAdjust="spacingAndGlyphs">4778.0</text>
<text class="t" x="1695" y="496" textLength="28" lengthAdjust="spacingAndGlyphs">4732.0</text>
<text class="t" x="1695" y="529" textLength="28" lengthAdjust="spacingAndGlyphs">4686.0</text>
<text class="t" x="1695" y="562" textLength="28" lengthAdjust="spacingAndGlyphs">4640.0</text>
<rect x="1691" y="179" width="36" height="11" fill="#ff0000" shape-rendering="crispEdges"/>
<text class="t w" x="1695" y="188" textLength="28" lengthAdjust="spacingAndGlyphs">5160.0</text>
<rect x="1691" y="294" width="36" height="11" fill="#ff0000" shape-rendering="crispEdges"/>
<text class="t w" x="1695" y="303" textLength="28" lengthAdjust="spacingAndGlyphs">5000.0</text>
<rect x="1691" y="345" width="36" height="11" fill="#000" shape-rendering="crispEdges"/>
<text class="t w" x="1695" y="354" textLength="28" lengthAdjust="spacingAndGlyphs">4930.2</text>
<rect x="1691" y="402" width="36" height="11" fill="#32cd32" shape-rendering="crispEdges"/>
<text class="t w" x="1695" y="411" textLength="28" lengthAdjust="spacingAndGlyphs">4850.0</text>
<rect x="1691" y="488" width="36" height="11" fill="#4169e1" shape-rendering="crispEdges"/>
<text class="t w" x="1695" y="497" textLength="28" lengthAdjust="spacingAndGlyphs">4730.0</text>
<text class="t" x="1693" y="574" textLength="23" lengthAdjust="spacingAndGlyphs">71.83</text>
<text class="t" x="1693" y="620" textLength="18" lengthAdjust="spacingAndGlyphs">0.00</text>
<text class="t" x="1693" y="685" textLength="26" lengthAdjust="spacingAndGlyphs">-98.25</text>
<text class="t" x="1693" y="701" textLength="15" lengthAdjust="spacingAndGlyphs">100</text>
<text class="t" x="1692" y="732" textLength="10" lengthAdjust="spacingAndGlyphs">70</text>
<text class="t" x="1692" y="782" textLength="10" lengthAdjust="spacingAndGlyphs">30</text>
<text class="t" x="1693" y="812" textLength="5" lengthAdjust="spacingAndGlyphs">0</text>
<text class="t" x="3" y="828" textLength="55" lengthAdjust="spacingAndGlyphs">12 May 2021</text>
<text class="t" x="67" y="828" textLength="58" lengthAdjust="spacingAndGlyphs">18 May 05:00</text>
<text class="t" x="131" y="828" textLength="58" lengthAdjust="spacingAndGlyphs">24 May 05:00</text>
<text class="t" x="195" y="828" textLength="58" lengthAdjust="spacingAndGlyphs">28 May 05:00</text>
<text class="t" x="259" y="828" textLength="48" lengthAdjust="spacingAndGlyphs">3 Jun 05:00</text>
<text class="t" x="323" y="828" textLength="48" lengthAdjust="spacingAndGlyphs">9 Jun 05:00</text>
<text class="t" x="387" y="828" textLength="53" lengthAdjust="spacingAndGlyphs">16 Jun 05:00</text>
<text class="t" x="451" y="828" textLength="53" lengthAdjust="spacingAndGlyphs">22 Jun 05:00</text>
<text class="t" x="515" y="828" textLength="53" lengthAdjust="spacingAndGlyphs">28 Jun 05:00</text>
<text class="t" x="579" y="828" textLength="45" lengthAdjust="spacingAndGlyphs">2 Jul 05:00</text>
<text class="t" x="643" y="828" textLength="45" lengthAdjust="spacingAndGlyphs">8 Jul 05:00</text>
<text class="t" x="707" y="828" textLength="50" lengthAdjust="spacingAndGlyphs">14 Jul 05:00</text>
<text class="t" x="771" y="828" textLength="50" lengthAdjust="spacingAndGlyphs">20 Jul 05:00</text>
<text class="t" x="835" y="828" textLength="50" lengthAdjust="spacingAndGlyphs">26 Jul 05:00</text>
<text class="t" x="899" y="828" textLength="50" lengthAdjust="spacingAndGlyphs">30 Jul 05:00</text>
<text class="t" x="963" y="828" textLength="50" lengthAdjust="spacingAndGlyphs">5 Aug 05:00</text>
<text class="t" x="1027" y="828" textLength="55" lengthAdjust="spacingAndGlyphs">11 Aug 05:00</text>
<text class="t" x="1091" y="828" textLength="55" lengthAdjust="spacingAndGlyphs">17 Aug 05:00</text>
<text class="t" x="1155" y="828" textLength="55" lengthAdjust="spacingAndGlyphs">23 Aug 05:00</text>
<text class="t" x="1219" y="828" textLength="55" lengthAdjust="spacingAndGlyphs">27 Aug 05:00</text>
<text class="t" x="1283" y="828" textLength="50" lengthAdjust="spacingAndGlyphs">2 Sep 05:00</text>
<text class="t" x="1347" y="828" textLength="50" lengthAdjust="spacingAndGlyphs">8 Sep 05:00</text>
<text class="t" x="1411" y="828" textLength="55" lengthAdjust="spacingAndGlyphs">14 Sep 05:00</text>
<text class="t" x="1475" y="828" textLength="55" lengthAdjust="spacingAndGlyphs">22 Sep 05:00</text>
<text class="t" x="1539" y="828" textLength="55" lengthAdjust="spacingAndGlyphs">28 Sep 05:00</text>
<text class="t" x="1603" y="828" textLength="53" lengthAdjust="spacingAndGlyphs">11 Oct 05:00</text>
<text class="t" x="1667" y="828" textLength="53" lengthAdjust="spacingAndGlyphs">15 Oct 05:00</text>
</svg>
<p class="note">多空转折点<span class="num">4850</span></p>
</body></html>
